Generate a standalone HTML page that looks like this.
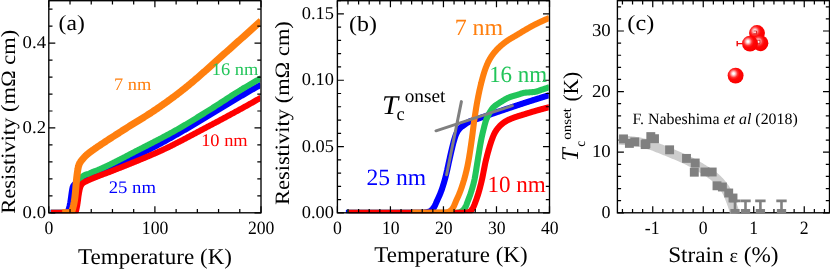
<!DOCTYPE html>
<html><head><meta charset="utf-8"><title>Figure</title>
<style>
html,body{margin:0;padding:0;background:#fff;}
body{width:830px;height:269px;overflow:hidden;position:relative;font-family:"Liberation Serif",serif;}
</style></head><body>
<svg width="830" height="269" viewBox="0 0 830 269" style="position:absolute;left:0;top:0;will-change:transform;text-rendering:geometricPrecision;font-family:'Liberation Serif', serif">
<rect width="830" height="269" fill="#fff"/>
<defs>
<clipPath id="ca"><rect x="48.80" y="0.70" width="212.80" height="213.30"/></clipPath>
<clipPath id="cb"><rect x="337.40" y="0.70" width="212.70" height="213.30"/></clipPath>
<clipPath id="cc"><rect x="617.40" y="0.70" width="212.70" height="213.30"/></clipPath>
<radialGradient id="ball" cx="0.37" cy="0.37" r="0.62" fx="0.37" fy="0.37"><stop offset="0" stop-color="#fff"/><stop offset="0.08" stop-color="#fff"/><stop offset="0.22" stop-color="#ffb0b0"/><stop offset="0.42" stop-color="#ff3030"/><stop offset="0.6" stop-color="#ff0606"/><stop offset="1" stop-color="#fa0000"/></radialGradient>
</defs>
<defs><clipPath id="ka"><rect x="48.20" y="0.70" width="212.05" height="212.55"/></clipPath><clipPath id="kb"><rect x="336.80" y="0.70" width="211.95" height="212.55"/></clipPath><clipPath id="kc"><rect x="616.80" y="0.70" width="211.95" height="213.00"/></clipPath></defs>
<g clip-path="url(#ka)">
<path d="M50.50 212.80L50.59 212.80L50.68 212.80L50.77 212.80L50.87 212.80L50.96 212.80L51.05 212.80L51.14 212.80L51.24 212.80L51.33 212.80L51.42 212.80L51.51 212.80L51.60 212.80L51.70 212.80L51.79 212.80L51.88 212.80L51.97 212.80L52.07 212.80L52.16 212.80L52.25 212.80L52.34 212.80L52.44 212.80L52.53 212.80L52.62 212.80L52.71 212.80L52.80 212.80L52.90 212.80L52.99 212.80L53.08 212.80L53.17 212.80L53.27 212.80L53.36 212.80L53.45 212.80L53.54 212.80L53.64 212.80L53.73 212.80L53.82 212.80L53.91 212.80L54.00 212.80L54.10 212.80L54.19 212.80L54.28 212.80L54.37 212.80L54.47 212.80L54.56 212.80L54.65 212.80L54.74 212.80L54.83 212.80L54.93 212.80L55.02 212.80L55.11 212.80L55.20 212.80L55.30 212.80L55.39 212.80L55.48 212.80L55.57 212.80L55.67 212.80L55.76 212.80L55.85 212.80L55.94 212.80L56.03 212.80L56.13 212.80L56.22 212.80L56.31 212.80L56.40 212.80L56.50 212.80L56.59 212.80L56.68 212.80L56.77 212.80L56.86 212.80L56.96 212.80L57.05 212.80L57.14 212.80L57.23 212.80L57.33 212.80L57.42 212.80L57.51 212.80L57.60 212.80L57.70 212.80L57.79 212.80L57.88 212.80L57.97 212.80L58.06 212.80L58.16 212.80L58.25 212.80L58.34 212.80L58.43 212.80L58.53 212.80L58.62 212.80L58.71 212.80L58.80 212.80L58.90 212.80L58.99 212.80L59.08 212.80L59.17 212.80L59.26 212.80L59.36 212.80L59.45 212.80L59.54 212.80L59.63 212.80L59.73 212.80L59.82 212.80L59.91 212.80L60.00 212.80L60.09 212.80L60.19 212.80L60.28 212.80L60.37 212.80L60.46 212.80L60.56 212.80L60.65 212.80L60.74 212.80L60.83 212.80L60.93 212.80L61.02 212.80L61.11 212.80L61.20 212.80L61.29 212.80L61.39 212.80L61.48 212.80L61.57 212.80L61.66 212.80L61.76 212.80L61.85 212.80L61.94 212.80L62.03 212.80L62.12 212.80L62.22 212.80L62.31 212.80L62.40 212.80L62.49 212.80L62.59 212.80L62.68 212.80L62.77 212.80L62.86 212.80L62.96 212.80L63.05 212.80L63.14 212.80L63.23 212.80L63.32 212.80L63.42 212.80L63.51 212.80L63.60 212.80L63.69 212.80L63.79 212.80L63.88 212.80L63.97 212.80L64.06 212.80L64.15 212.80L64.25 212.80L64.34 212.80L64.43 212.80L64.52 212.80L64.62 212.80L64.71 212.80L64.80 212.80L64.89 212.80L64.99 212.80L65.08 212.80L65.17 212.80L65.26 212.80L65.35 212.80L65.45 212.80L65.54 212.80L65.63 212.80L65.72 212.80L65.82 212.79L65.91 212.78L66.00 212.77L66.09 212.76L66.19 212.74L66.28 212.72L66.37 212.70L66.46 212.68L66.55 212.65L66.65 212.62L66.74 212.59L66.83 212.56L66.92 212.53L67.02 212.49L67.11 212.45L67.20 212.40L67.29 212.33L67.38 212.24L67.48 212.14L67.57 212.02L67.66 211.88L67.75 211.74L67.85 211.58L67.94 211.41L68.03 211.24L68.12 211.05L68.22 210.82L68.31 210.54L68.40 210.23L68.49 209.89L68.58 209.54L68.68 209.20L68.77 208.87L68.86 208.56L68.95 208.24L69.05 207.91L69.14 207.59L69.23 207.25L69.32 206.90L69.41 206.53L69.51 206.15L69.60 205.75L69.69 205.33L69.78 204.90L69.88 204.45L69.97 203.98L70.06 203.50L70.15 203.00L70.25 202.49L70.34 201.95L70.43 201.38L70.52 200.78L70.61 200.16L70.71 199.53L70.80 198.88L70.89 198.21L70.98 197.52L71.08 196.82L71.17 196.13L71.26 195.47L71.35 194.81L71.45 194.15L71.54 193.51L71.63 192.88L71.72 192.27L71.81 191.65L71.91 191.04L72.00 190.46L72.09 189.91L72.18 189.41L72.28 188.93L72.37 188.47L72.46 188.04L72.55 187.67L72.64 187.35L72.74 187.07L72.83 186.81L72.92 186.57L73.01 186.35L73.11 186.15L73.20 185.97L73.29 185.81L73.38 185.66L73.48 185.52L73.57 185.40L73.66 185.28L73.75 185.17L73.84 185.07L73.94 184.96L74.03 184.86L74.12 184.76L74.21 184.65L74.31 184.55L74.40 184.44L74.49 184.34L74.58 184.23L74.67 184.13L74.77 184.03L74.86 183.94L74.95 183.85L75.04 183.76L75.14 183.68L75.23 183.60L75.32 183.53L75.41 183.47L75.51 183.41L75.60 183.35L75.69 183.30L75.78 183.25L75.87 183.20L75.97 183.16L76.06 183.11L76.15 183.07L76.24 183.02L76.34 182.98L76.43 182.94L76.52 182.89L76.61 182.85L76.70 182.80L76.80 182.75L76.89 182.70L76.98 182.65L77.07 182.60L77.17 182.55L77.26 182.50L77.35 182.45L77.44 182.40L77.54 182.35L77.63 182.30L77.72 182.25L77.81 182.20L77.90 182.15L78.00 182.10L78.09 182.05L78.18 181.99L78.27 181.94L78.37 181.89L78.46 181.84L78.55 181.79L78.64 181.74L78.74 181.69L78.83 181.64L78.92 181.59L79.01 181.53L79.10 181.48L79.20 181.43L79.29 181.38L79.38 181.33L79.47 181.28L79.57 181.23L79.66 181.18L79.75 181.13L79.84 181.08L79.93 181.03L80.03 180.97L80.12 180.92L80.21 180.87L80.30 180.82L80.40 180.77L80.49 180.72L80.58 180.67L80.67 180.62L80.77 180.57L80.86 180.52L80.95 180.47L81.04 180.42L81.13 180.37L81.23 180.32L81.32 180.27L81.41 180.22L81.50 180.17L81.60 180.12L81.69 180.07L81.78 180.02L81.87 179.97L81.96 179.92L82.06 179.87L82.15 179.82L82.24 179.77L82.33 179.72L82.43 179.67L82.52 179.62L82.61 179.57L82.70 179.52L82.80 179.47L82.89 179.42L82.98 179.37L83.07 179.32L83.16 179.27L83.26 179.22L83.35 179.17L83.44 179.12L83.53 179.08L83.63 179.03L83.72 178.98L83.81 178.93L83.90 178.88L84.00 178.83L84.09 178.78L84.18 178.73L84.27 178.68L84.36 178.63L84.46 178.58L84.55 178.53L84.64 178.48L84.73 178.43L84.83 178.38L84.92 178.34L85.01 178.29L85.10 178.24L85.19 178.19L85.29 178.14L85.38 178.09L85.47 178.04L85.56 177.99L85.66 177.94L85.75 177.90L85.84 177.85L85.93 177.80L86.03 177.75L86.12 177.70L86.21 177.65L86.30 177.61L86.39 177.56L86.49 177.51L86.58 177.46L86.67 177.41L86.76 177.37L86.86 177.32L86.95 177.27L87.04 177.22L87.13 177.18L87.22 177.13L87.32 177.08L87.41 177.03L87.50 176.99L87.59 176.94L87.69 176.89L87.78 176.84L87.87 176.79L87.96 176.75L88.06 176.70L88.15 176.65L88.24 176.60L88.33 176.55L88.42 176.50L88.52 176.46L88.61 176.41L88.70 176.36L88.79 176.31L88.89 176.26L88.98 176.22L89.07 176.17L89.16 176.12L89.25 176.07L89.35 176.03L89.44 175.98L89.53 175.93L89.62 175.89L89.72 175.84L89.81 175.79L89.90 175.75L89.99 175.70L90.09 175.66L90.18 175.61L90.27 175.57L90.36 175.53L90.45 175.48L90.55 175.44L90.64 175.40L90.73 175.35L90.82 175.31L90.92 175.27L91.01 175.23L91.10 175.19L91.19 175.15L91.29 175.11L91.38 175.07L91.47 175.03L91.56 175.00L91.65 174.96L91.75 174.92L91.84 174.88L91.93 174.85L92.02 174.81L92.12 174.77L92.21 174.73L92.30 174.70L92.39 174.66L92.48 174.62L92.58 174.59L92.67 174.55L92.76 174.52L92.85 174.48L92.95 174.45L93.04 174.41L93.13 174.38L93.22 174.34L93.32 174.31L93.41 174.27L93.50 174.24L93.59 174.20L93.68 174.17L93.78 174.14L93.87 174.10L93.96 174.07L94.05 174.04L94.15 174.00L94.24 173.97L94.33 173.94L94.42 173.90L94.51 173.87L94.61 173.84L94.70 173.81L94.79 173.77L94.88 173.74L94.98 173.71L95.07 173.68L95.16 173.65L95.25 173.61L95.35 173.58L95.44 173.55L95.53 173.52L95.62 173.49L95.71 173.46L95.81 173.43L95.90 173.40L95.99 173.37L96.08 173.34L96.18 173.30L96.27 173.27L96.36 173.24L96.45 173.21L96.54 173.18L97.37 172.92L98.20 172.65L99.02 172.39L99.85 172.13L100.68 171.87L101.50 171.61L102.33 171.34L103.16 171.06L103.98 170.78L104.81 170.48L105.64 170.17L106.46 169.85L107.29 169.53L108.11 169.20L108.94 168.86L109.77 168.53L110.59 168.19L111.42 167.84L112.25 167.49L113.07 167.14L113.90 166.78L114.73 166.42L115.55 166.06L116.38 165.70L117.21 165.33L118.03 164.96L118.86 164.58L119.68 164.20L120.51 163.82L121.34 163.44L122.16 163.05L122.99 162.67L123.82 162.28L124.64 161.88L125.47 161.49L126.30 161.09L127.12 160.69L127.95 160.29L128.77 159.89L129.60 159.48L130.43 159.08L131.25 158.67L132.08 158.26L132.91 157.85L133.73 157.44L134.56 157.02L135.39 156.61L136.21 156.19L137.04 155.78L137.87 155.36L138.69 154.94L139.52 154.52L140.34 154.10L141.17 153.68L142.00 153.26L142.82 152.84L143.65 152.42L144.48 151.99L145.30 151.57L146.13 151.15L146.96 150.73L147.78 150.31L148.61 149.88L149.44 149.46L150.26 149.03L151.09 148.61L151.91 148.18L152.74 147.75L153.57 147.31L154.39 146.88L155.22 146.44L156.05 146.00L156.87 145.56L157.70 145.11L158.53 144.67L159.35 144.22L160.18 143.77L161.00 143.32L161.83 142.87L162.66 142.42L163.48 141.97L164.31 141.51L165.14 141.05L165.96 140.59L166.79 140.14L167.62 139.67L168.44 139.21L169.27 138.75L170.10 138.29L170.92 137.82L171.75 137.35L172.57 136.89L173.40 136.42L174.23 135.95L175.05 135.48L175.88 135.01L176.71 134.54L177.53 134.07L178.36 133.60L179.19 133.13L180.01 132.65L180.84 132.18L181.66 131.70L182.49 131.23L183.32 130.76L184.14 130.28L184.97 129.81L185.80 129.33L186.62 128.85L187.45 128.37L188.28 127.89L189.10 127.40L189.93 126.92L190.76 126.43L191.58 125.94L192.41 125.45L193.23 124.96L194.06 124.47L194.89 123.98L195.71 123.48L196.54 122.99L197.37 122.49L198.19 121.99L199.02 121.50L199.85 121.00L200.67 120.50L201.50 120.00L202.33 119.50L203.15 119.00L203.98 118.49L204.80 117.99L205.63 117.49L206.46 116.99L207.28 116.49L208.11 115.99L208.94 115.48L209.76 114.98L210.59 114.48L211.42 113.98L212.24 113.48L213.07 112.98L213.89 112.48L214.72 111.98L215.55 111.49L216.37 110.99L217.20 110.49L218.03 110.00L218.85 109.50L219.68 109.01L220.51 108.51L221.33 108.01L222.16 107.51L222.99 107.02L223.81 106.52L224.64 106.02L225.46 105.52L226.29 105.02L227.12 104.52L227.94 104.01L228.77 103.51L229.60 103.01L230.42 102.51L231.25 102.01L232.08 101.51L232.90 101.01L233.73 100.51L234.55 100.01L235.38 99.51L236.21 99.01L237.03 98.52L237.86 98.02L238.69 97.52L239.51 97.03L240.34 96.53L241.17 96.04L241.99 95.55L242.82 95.06L243.65 94.57L244.47 94.08L245.30 93.59L246.12 93.10L246.95 92.62L247.78 92.14L248.60 91.66L249.43 91.18L250.26 90.70L251.08 90.22L251.91 89.75L252.74 89.28L253.56 88.81L254.39 88.35L255.22 87.88L256.04 87.42L256.87 86.97L257.69 86.51L258.52 86.05L259.35 85.60L260.17 85.14L261.00 84.69" stroke="#0000ff" stroke-width="6.0" fill="none" stroke-linejoin="round" stroke-linecap="butt"/>
<path d="M50.76 212.80L50.85 212.80L50.95 212.80L51.04 212.80L51.13 212.80L51.22 212.80L51.31 212.80L51.41 212.80L51.50 212.80L51.59 212.80L51.68 212.80L51.77 212.80L51.86 212.80L51.96 212.80L52.05 212.80L52.14 212.80L52.23 212.80L52.32 212.80L52.41 212.80L52.51 212.80L52.60 212.80L52.69 212.80L52.78 212.80L52.87 212.80L52.96 212.80L53.06 212.80L53.15 212.80L53.24 212.80L53.33 212.80L53.42 212.80L53.52 212.80L53.61 212.80L53.70 212.80L53.79 212.80L53.88 212.80L53.97 212.80L54.07 212.80L54.16 212.80L54.25 212.80L54.34 212.80L54.43 212.80L54.52 212.80L54.62 212.80L54.71 212.80L54.80 212.80L54.89 212.80L54.98 212.80L55.07 212.80L55.17 212.80L55.26 212.80L55.35 212.80L55.44 212.80L55.53 212.80L55.63 212.80L55.72 212.80L55.81 212.80L55.90 212.80L55.99 212.80L56.08 212.80L56.18 212.80L56.27 212.80L56.36 212.80L56.45 212.80L56.54 212.80L56.63 212.80L56.73 212.80L56.82 212.80L56.91 212.80L57.00 212.80L57.09 212.80L57.19 212.80L57.28 212.80L57.37 212.80L57.46 212.80L57.55 212.80L57.64 212.80L57.74 212.80L57.83 212.80L57.92 212.80L58.01 212.80L58.10 212.80L58.19 212.80L58.29 212.80L58.38 212.80L58.47 212.80L58.56 212.80L58.65 212.80L58.74 212.80L58.84 212.80L58.93 212.80L59.02 212.80L59.11 212.80L59.20 212.80L59.30 212.80L59.39 212.80L59.48 212.80L59.57 212.80L59.66 212.80L59.75 212.80L59.85 212.80L59.94 212.80L60.03 212.80L60.12 212.80L60.21 212.80L60.30 212.80L60.40 212.80L60.49 212.80L60.58 212.80L60.67 212.80L60.76 212.80L60.86 212.80L60.95 212.80L61.04 212.80L61.13 212.80L61.22 212.80L61.31 212.80L61.41 212.80L61.50 212.80L61.59 212.80L61.68 212.80L61.77 212.80L61.86 212.80L61.96 212.80L62.05 212.80L62.14 212.80L62.23 212.80L62.32 212.80L62.41 212.80L62.51 212.80L62.60 212.80L62.69 212.80L62.78 212.80L62.87 212.80L62.97 212.80L63.06 212.80L63.15 212.80L63.24 212.80L63.33 212.80L63.42 212.80L63.52 212.80L63.61 212.80L63.70 212.80L63.79 212.80L63.88 212.80L63.97 212.80L64.07 212.80L64.16 212.80L64.25 212.80L64.34 212.80L64.43 212.80L64.53 212.80L64.62 212.80L64.71 212.80L64.80 212.80L64.89 212.80L64.98 212.80L65.08 212.80L65.17 212.80L65.26 212.80L65.35 212.80L65.44 212.80L65.53 212.80L65.63 212.80L65.72 212.80L65.81 212.80L65.90 212.80L65.99 212.80L66.08 212.80L66.18 212.80L66.27 212.80L66.36 212.80L66.45 212.80L66.54 212.80L66.64 212.80L66.73 212.80L66.82 212.80L66.91 212.80L67.00 212.80L67.09 212.80L67.19 212.80L67.28 212.80L67.37 212.80L67.46 212.80L67.55 212.80L67.64 212.80L67.74 212.80L67.83 212.80L67.92 212.80L68.01 212.80L68.10 212.80L68.19 212.80L68.29 212.80L68.38 212.80L68.47 212.80L68.56 212.80L68.65 212.80L68.75 212.80L68.84 212.80L68.93 212.80L69.02 212.80L69.11 212.80L69.20 212.80L69.30 212.80L69.39 212.80L69.48 212.80L69.57 212.80L69.66 212.80L69.75 212.80L69.85 212.80L69.94 212.80L70.03 212.80L70.12 212.80L70.21 212.80L70.31 212.80L70.40 212.80L70.49 212.80L70.58 212.80L70.67 212.80L70.76 212.80L70.86 212.80L70.95 212.80L71.04 212.80L71.13 212.80L71.22 212.80L71.31 212.80L71.41 212.80L71.50 212.80L71.59 212.80L71.68 212.80L71.77 212.80L71.86 212.80L71.96 212.80L72.05 212.80L72.14 212.80L72.23 212.80L72.32 212.80L72.42 212.80L72.51 212.80L72.60 212.80L72.69 212.79L72.78 212.78L72.87 212.76L72.97 212.73L73.06 212.69L73.15 212.65L73.24 212.61L73.33 212.56L73.42 212.51L73.52 212.45L73.61 212.39L73.70 212.32L73.79 212.22L73.88 212.09L73.98 211.95L74.07 211.78L74.16 211.59L74.25 211.39L74.34 211.17L74.43 210.93L74.53 210.62L74.62 210.25L74.71 209.86L74.80 209.45L74.89 209.06L74.98 208.68L75.08 208.30L75.17 207.91L75.26 207.52L75.35 207.11L75.44 206.68L75.53 206.24L75.63 205.77L75.72 205.30L75.81 204.80L75.90 204.28L75.99 203.73L76.09 203.15L76.18 202.53L76.27 201.84L76.36 201.07L76.45 200.22L76.54 199.32L76.64 198.39L76.73 197.46L76.82 196.55L76.91 195.67L77.00 194.78L77.09 193.87L77.19 192.97L77.28 192.07L77.37 191.20L77.46 190.37L77.55 189.60L77.64 188.88L77.74 188.20L77.83 187.55L77.92 186.92L78.01 186.32L78.10 185.74L78.20 185.15L78.29 184.58L78.38 184.03L78.47 183.53L78.56 183.10L78.65 182.72L78.75 182.36L78.84 182.03L78.93 181.72L79.02 181.43L79.11 181.16L79.20 180.90L79.30 180.65L79.39 180.40L79.48 180.17L79.57 179.94L79.66 179.73L79.76 179.53L79.85 179.34L79.94 179.17L80.03 179.02L80.12 178.88L80.21 178.75L80.31 178.64L80.40 178.52L80.49 178.42L80.58 178.31L80.67 178.21L80.76 178.10L80.86 178.00L80.95 177.90L81.04 177.80L81.13 177.70L81.22 177.61L81.31 177.52L81.41 177.42L81.50 177.33L81.59 177.24L81.68 177.15L81.77 177.06L81.87 176.97L81.96 176.88L82.05 176.79L82.14 176.70L82.23 176.62L82.32 176.53L82.42 176.44L82.51 176.36L82.60 176.28L82.69 176.20L82.78 176.13L82.87 176.06L82.97 176.00L83.06 175.94L83.15 175.88L83.24 175.83L83.33 175.77L83.43 175.72L83.52 175.67L83.61 175.62L83.70 175.57L83.79 175.53L83.88 175.48L83.98 175.44L84.07 175.39L84.16 175.35L84.25 175.31L84.34 175.26L84.43 175.22L84.53 175.18L84.62 175.14L84.71 175.09L84.80 175.05L84.89 175.01L84.98 174.97L85.08 174.92L85.17 174.88L85.26 174.83L85.35 174.78L85.44 174.73L85.54 174.68L85.63 174.63L85.72 174.58L85.81 174.53L85.90 174.49L85.99 174.45L86.09 174.43L86.18 174.40L86.27 174.38L86.36 174.37L86.45 174.35L86.54 174.34L86.64 174.33L86.73 174.32L86.82 174.30L86.91 174.29L87.00 174.28L87.09 174.27L87.19 174.26L87.28 174.25L87.37 174.24L87.46 174.23L87.55 174.22L87.65 174.20L87.74 174.19L87.83 174.18L87.92 174.17L88.01 174.16L88.10 174.14L88.20 174.13L88.29 174.11L88.38 174.09L88.47 174.06L88.56 174.02L88.65 173.98L88.75 173.94L88.84 173.89L88.93 173.84L89.02 173.79L89.11 173.74L89.21 173.68L89.30 173.63L89.39 173.58L89.48 173.52L89.57 173.47L89.66 173.43L89.76 173.38L89.85 173.33L89.94 173.28L90.03 173.23L90.12 173.18L90.21 173.13L90.31 173.08L90.40 173.03L90.49 172.98L90.58 172.92L90.67 172.87L90.76 172.83L90.86 172.78L90.95 172.73L91.04 172.68L91.13 172.64L91.22 172.59L91.32 172.55L91.41 172.51L91.50 172.47L91.59 172.43L91.68 172.39L91.77 172.35L91.87 172.31L91.96 172.27L92.05 172.23L92.14 172.19L92.23 172.15L92.32 172.11L92.42 172.08L92.51 172.04L92.60 172.00L92.69 171.96L92.78 171.93L92.88 171.89L92.97 171.86L93.06 171.82L93.15 171.79L93.24 171.75L93.33 171.72L93.43 171.68L93.52 171.65L93.61 171.61L93.70 171.58L93.79 171.54L93.88 171.51L93.98 171.48L94.07 171.44L94.16 171.41L94.25 171.38L94.34 171.34L94.43 171.31L94.53 171.28L94.62 171.24L94.71 171.21L94.80 171.18L94.89 171.15L94.99 171.11L95.08 171.08L95.17 171.05L95.26 171.01L95.35 170.98L95.44 170.95L95.54 170.92L95.63 170.88L95.72 170.85L95.81 170.82L95.90 170.78L95.99 170.75L96.09 170.72L96.18 170.68L96.27 170.65L96.36 170.61L96.45 170.58L96.54 170.55L97.37 170.23L98.20 169.88L99.02 169.53L99.85 169.17L100.68 168.81L101.50 168.44L102.33 168.08L103.16 167.70L103.98 167.32L104.81 166.94L105.64 166.56L106.46 166.17L107.29 165.78L108.11 165.39L108.94 164.99L109.77 164.59L110.59 164.19L111.42 163.78L112.25 163.37L113.07 162.96L113.90 162.55L114.73 162.14L115.55 161.72L116.38 161.30L117.21 160.88L118.03 160.46L118.86 160.04L119.68 159.61L120.51 159.18L121.34 158.76L122.16 158.33L122.99 157.90L123.82 157.47L124.64 157.04L125.47 156.61L126.30 156.18L127.12 155.75L127.95 155.31L128.77 154.88L129.60 154.45L130.43 154.02L131.25 153.59L132.08 153.16L132.91 152.73L133.73 152.30L134.56 151.87L135.39 151.44L136.21 151.02L137.04 150.59L137.87 150.17L138.69 149.75L139.52 149.32L140.34 148.90L141.17 148.48L142.00 148.06L142.82 147.64L143.65 147.22L144.48 146.80L145.30 146.37L146.13 145.95L146.96 145.53L147.78 145.11L148.61 144.69L149.44 144.26L150.26 143.84L151.09 143.42L151.91 142.99L152.74 142.57L153.57 142.14L154.39 141.71L155.22 141.29L156.05 140.86L156.87 140.43L157.70 140.00L158.53 139.57L159.35 139.14L160.18 138.71L161.00 138.27L161.83 137.84L162.66 137.40L163.48 136.96L164.31 136.52L165.14 136.08L165.96 135.64L166.79 135.20L167.62 134.75L168.44 134.31L169.27 133.86L170.10 133.41L170.92 132.96L171.75 132.50L172.57 132.05L173.40 131.59L174.23 131.13L175.05 130.67L175.88 130.21L176.71 129.74L177.53 129.27L178.36 128.80L179.19 128.33L180.01 127.85L180.84 127.38L181.66 126.90L182.49 126.41L183.32 125.93L184.14 125.44L184.97 124.95L185.80 124.46L186.62 123.97L187.45 123.47L188.28 122.98L189.10 122.48L189.93 121.98L190.76 121.48L191.58 120.98L192.41 120.47L193.23 119.97L194.06 119.46L194.89 118.95L195.71 118.45L196.54 117.94L197.37 117.43L198.19 116.92L199.02 116.41L199.85 115.89L200.67 115.38L201.50 114.87L202.33 114.35L203.15 113.84L203.98 113.33L204.80 112.81L205.63 112.30L206.46 111.78L207.28 111.27L208.11 110.76L208.94 110.24L209.76 109.73L210.59 109.21L211.42 108.69L212.24 108.17L213.07 107.65L213.89 107.12L214.72 106.60L215.55 106.07L216.37 105.54L217.20 105.01L218.03 104.47L218.85 103.94L219.68 103.40L220.51 102.87L221.33 102.33L222.16 101.79L222.99 101.26L223.81 100.72L224.64 100.18L225.46 99.64L226.29 99.11L227.12 98.57L227.94 98.03L228.77 97.50L229.60 96.97L230.42 96.43L231.25 95.90L232.08 95.37L232.90 94.84L233.73 94.32L234.55 93.79L235.38 93.27L236.21 92.75L237.03 92.23L237.86 91.72L238.69 91.21L239.51 90.70L240.34 90.19L241.17 89.69L241.99 89.19L242.82 88.69L243.65 88.19L244.47 87.70L245.30 87.20L246.12 86.71L246.95 86.22L247.78 85.73L248.60 85.25L249.43 84.76L250.26 84.28L251.08 83.79L251.91 83.31L252.74 82.83L253.56 82.36L254.39 81.88L255.22 81.40L256.04 80.93L256.87 80.46L257.69 79.99L258.52 79.52L259.35 79.05L260.17 78.58L261.00 78.12" stroke="#22c55a" stroke-width="6.0" fill="none" stroke-linejoin="round" stroke-linecap="butt"/>
<path d="M51.03 212.80L51.12 212.80L51.21 212.80L51.30 212.80L51.39 212.80L51.48 212.80L51.58 212.80L51.67 212.80L51.76 212.80L51.85 212.80L51.94 212.80L52.03 212.80L52.12 212.80L52.21 212.80L52.31 212.80L52.40 212.80L52.49 212.80L52.58 212.80L52.67 212.80L52.76 212.80L52.85 212.80L52.94 212.80L53.03 212.80L53.13 212.80L53.22 212.80L53.31 212.80L53.40 212.80L53.49 212.80L53.58 212.80L53.67 212.80L53.76 212.80L53.86 212.80L53.95 212.80L54.04 212.80L54.13 212.80L54.22 212.80L54.31 212.80L54.40 212.80L54.49 212.80L54.59 212.80L54.68 212.80L54.77 212.80L54.86 212.80L54.95 212.80L55.04 212.80L55.13 212.80L55.22 212.80L55.32 212.80L55.41 212.80L55.50 212.80L55.59 212.80L55.68 212.80L55.77 212.80L55.86 212.80L55.95 212.80L56.04 212.80L56.14 212.80L56.23 212.80L56.32 212.80L56.41 212.80L56.50 212.80L56.59 212.80L56.68 212.80L56.77 212.80L56.87 212.80L56.96 212.80L57.05 212.80L57.14 212.80L57.23 212.80L57.32 212.80L57.41 212.80L57.50 212.80L57.60 212.80L57.69 212.80L57.78 212.80L57.87 212.80L57.96 212.80L58.05 212.80L58.14 212.80L58.23 212.80L58.33 212.80L58.42 212.80L58.51 212.80L58.60 212.80L58.69 212.80L58.78 212.80L58.87 212.80L58.96 212.80L59.06 212.80L59.15 212.80L59.24 212.80L59.33 212.80L59.42 212.80L59.51 212.80L59.60 212.80L59.69 212.80L59.78 212.80L59.88 212.80L59.97 212.80L60.06 212.80L60.15 212.80L60.24 212.80L60.33 212.80L60.42 212.80L60.51 212.80L60.61 212.80L60.70 212.80L60.79 212.80L60.88 212.80L60.97 212.80L61.06 212.80L61.15 212.80L61.24 212.80L61.34 212.80L61.43 212.80L61.52 212.80L61.61 212.80L61.70 212.80L61.79 212.80L61.88 212.80L61.97 212.80L62.07 212.80L62.16 212.80L62.25 212.80L62.34 212.80L62.43 212.80L62.52 212.80L62.61 212.80L62.70 212.80L62.79 212.80L62.89 212.80L62.98 212.80L63.07 212.80L63.16 212.80L63.25 212.80L63.34 212.80L63.43 212.80L63.52 212.80L63.62 212.80L63.71 212.80L63.80 212.80L63.89 212.80L63.98 212.80L64.07 212.80L64.16 212.80L64.25 212.80L64.35 212.80L64.44 212.80L64.53 212.80L64.62 212.80L64.71 212.80L64.80 212.80L64.89 212.80L64.98 212.80L65.08 212.80L65.17 212.80L65.26 212.80L65.35 212.80L65.44 212.80L65.53 212.80L65.62 212.80L65.71 212.80L65.81 212.80L65.90 212.80L65.99 212.80L66.08 212.80L66.17 212.80L66.26 212.80L66.35 212.80L66.44 212.80L66.53 212.80L66.63 212.80L66.72 212.80L66.81 212.80L66.90 212.80L66.99 212.80L67.08 212.80L67.17 212.80L67.26 212.80L67.36 212.80L67.45 212.80L67.54 212.80L67.63 212.80L67.72 212.80L67.81 212.80L67.90 212.80L67.99 212.80L68.09 212.80L68.18 212.80L68.27 212.80L68.36 212.80L68.45 212.80L68.54 212.80L68.63 212.80L68.72 212.80L68.82 212.80L68.91 212.80L69.00 212.80L69.09 212.80L69.18 212.80L69.27 212.80L69.36 212.80L69.45 212.80L69.54 212.80L69.64 212.80L69.73 212.80L69.82 212.80L69.91 212.80L70.00 212.80L70.09 212.80L70.18 212.80L70.27 212.80L70.37 212.80L70.46 212.80L70.55 212.80L70.64 212.80L70.73 212.80L70.82 212.80L70.91 212.80L71.00 212.80L71.10 212.80L71.19 212.80L71.28 212.80L71.37 212.80L71.46 212.80L71.55 212.80L71.64 212.80L71.73 212.80L71.83 212.80L71.92 212.80L72.01 212.80L72.10 212.80L72.19 212.80L72.28 212.80L72.37 212.80L72.46 212.80L72.56 212.80L72.65 212.80L72.74 212.80L72.83 212.80L72.92 212.80L73.01 212.80L73.10 212.80L73.19 212.80L73.28 212.80L73.38 212.80L73.47 212.80L73.56 212.80L73.65 212.80L73.74 212.80L73.83 212.80L73.92 212.80L74.01 212.80L74.11 212.80L74.20 212.80L74.29 212.80L74.38 212.80L74.47 212.79L74.56 212.78L74.65 212.76L74.74 212.72L74.84 212.68L74.93 212.64L75.02 212.59L75.11 212.53L75.20 212.47L75.29 212.40L75.38 212.32L75.47 212.20L75.57 212.05L75.66 211.86L75.75 211.65L75.84 211.43L75.93 211.19L76.02 210.93L76.11 210.62L76.20 210.27L76.29 209.88L76.39 209.49L76.48 209.09L76.57 208.69L76.66 208.28L76.75 207.86L76.84 207.42L76.93 206.97L77.02 206.50L77.12 206.00L77.21 205.49L77.30 204.94L77.39 204.38L77.48 203.80L77.57 203.20L77.66 202.59L77.75 201.95L77.85 201.27L77.94 200.55L78.03 199.80L78.12 199.05L78.21 198.30L78.30 197.57L78.39 196.87L78.48 196.22L78.58 195.62L78.67 195.04L78.76 194.47L78.85 193.91L78.94 193.37L79.03 192.84L79.12 192.33L79.21 191.83L79.31 191.35L79.40 190.88L79.49 190.43L79.58 190.00L79.67 189.58L79.76 189.18L79.85 188.79L79.94 188.42L80.03 188.07L80.13 187.73L80.22 187.43L80.31 187.15L80.40 186.89L80.49 186.65L80.58 186.43L80.67 186.22L80.76 186.02L80.86 185.83L80.95 185.65L81.04 185.48L81.13 185.32L81.22 185.16L81.31 185.00L81.40 184.85L81.49 184.71L81.59 184.58L81.68 184.45L81.77 184.33L81.86 184.22L81.95 184.11L82.04 184.00L82.13 183.89L82.22 183.79L82.32 183.69L82.41 183.60L82.50 183.51L82.59 183.42L82.68 183.34L82.77 183.26L82.86 183.19L82.95 183.11L83.04 183.05L83.14 182.98L83.23 182.91L83.32 182.85L83.41 182.79L83.50 182.72L83.59 182.66L83.68 182.61L83.77 182.55L83.87 182.49L83.96 182.44L84.05 182.38L84.14 182.33L84.23 182.28L84.32 182.23L84.41 182.18L84.50 182.13L84.60 182.08L84.69 182.03L84.78 181.98L84.87 181.94L84.96 181.89L85.05 181.84L85.14 181.80L85.23 181.75L85.33 181.71L85.42 181.66L85.51 181.62L85.60 181.57L85.69 181.53L85.78 181.48L85.87 181.44L85.96 181.39L86.06 181.35L86.15 181.30L86.24 181.26L86.33 181.21L86.42 181.17L86.51 181.12L86.60 181.08L86.69 181.03L86.78 180.99L86.88 180.94L86.97 180.90L87.06 180.85L87.15 180.81L87.24 180.76L87.33 180.72L87.42 180.68L87.51 180.63L87.61 180.59L87.70 180.55L87.79 180.51L87.88 180.46L87.97 180.42L88.06 180.38L88.15 180.34L88.24 180.30L88.34 180.25L88.43 180.21L88.52 180.17L88.61 180.13L88.70 180.09L88.79 180.05L88.88 180.01L88.97 179.97L89.07 179.93L89.16 179.89L89.25 179.85L89.34 179.81L89.43 179.77L89.52 179.73L89.61 179.69L89.70 179.65L89.79 179.61L89.89 179.57L89.98 179.53L90.07 179.49L90.16 179.45L90.25 179.41L90.34 179.37L90.43 179.33L90.52 179.30L90.62 179.26L90.71 179.22L90.80 179.18L90.89 179.14L90.98 179.10L91.07 179.06L91.16 179.02L91.25 178.99L91.35 178.95L91.44 178.91L91.53 178.87L91.62 178.83L91.71 178.79L91.80 178.75L91.89 178.72L91.98 178.68L92.08 178.64L92.17 178.60L92.26 178.56L92.35 178.53L92.44 178.49L92.53 178.45L92.62 178.41L92.71 178.37L92.81 178.34L92.90 178.30L92.99 178.26L93.08 178.22L93.17 178.19L93.26 178.15L93.35 178.11L93.44 178.07L93.53 178.04L93.63 178.00L93.72 177.96L93.81 177.92L93.90 177.89L93.99 177.85L94.08 177.81L94.17 177.78L94.26 177.74L94.36 177.70L94.45 177.67L94.54 177.63L94.63 177.59L94.72 177.56L94.81 177.52L94.90 177.48L94.99 177.45L95.09 177.41L95.18 177.37L95.27 177.34L95.36 177.30L95.45 177.26L95.54 177.23L95.63 177.19L95.72 177.16L95.82 177.12L95.91 177.08L96.00 177.05L96.09 177.01L96.18 176.98L96.27 176.94L96.36 176.90L96.45 176.87L96.54 176.83L97.37 176.51L98.20 176.19L99.02 175.87L99.85 175.56L100.68 175.24L101.50 174.93L102.33 174.62L103.16 174.31L103.98 174.00L104.81 173.69L105.64 173.38L106.46 173.08L107.29 172.77L108.11 172.46L108.94 172.14L109.77 171.83L110.59 171.51L111.42 171.20L112.25 170.88L113.07 170.55L113.90 170.23L114.73 169.90L115.55 169.57L116.38 169.24L117.21 168.91L118.03 168.58L118.86 168.25L119.68 167.92L120.51 167.59L121.34 167.26L122.16 166.93L122.99 166.61L123.82 166.28L124.64 165.95L125.47 165.62L126.30 165.29L127.12 164.96L127.95 164.63L128.77 164.30L129.60 163.96L130.43 163.63L131.25 163.30L132.08 162.97L132.91 162.63L133.73 162.30L134.56 161.97L135.39 161.63L136.21 161.30L137.04 160.96L137.87 160.62L138.69 160.28L139.52 159.94L140.34 159.60L141.17 159.26L142.00 158.92L142.82 158.58L143.65 158.23L144.48 157.89L145.30 157.54L146.13 157.19L146.96 156.84L147.78 156.49L148.61 156.14L149.44 155.79L150.26 155.44L151.09 155.08L151.91 154.72L152.74 154.36L153.57 154.00L154.39 153.64L155.22 153.28L156.05 152.91L156.87 152.54L157.70 152.18L158.53 151.80L159.35 151.43L160.18 151.06L161.00 150.68L161.83 150.30L162.66 149.92L163.48 149.54L164.31 149.15L165.14 148.76L165.96 148.37L166.79 147.97L167.62 147.58L168.44 147.18L169.27 146.77L170.10 146.37L170.92 145.96L171.75 145.55L172.57 145.14L173.40 144.72L174.23 144.30L175.05 143.89L175.88 143.46L176.71 143.04L177.53 142.62L178.36 142.19L179.19 141.77L180.01 141.34L180.84 140.91L181.66 140.48L182.49 140.04L183.32 139.61L184.14 139.18L184.97 138.74L185.80 138.31L186.62 137.87L187.45 137.43L188.28 136.99L189.10 136.56L189.93 136.12L190.76 135.68L191.58 135.24L192.41 134.80L193.23 134.36L194.06 133.92L194.89 133.49L195.71 133.05L196.54 132.61L197.37 132.17L198.19 131.74L199.02 131.30L199.85 130.87L200.67 130.43L201.50 130.00L202.33 129.57L203.15 129.13L203.98 128.70L204.80 128.27L205.63 127.83L206.46 127.40L207.28 126.96L208.11 126.53L208.94 126.09L209.76 125.66L210.59 125.22L211.42 124.78L212.24 124.35L213.07 123.91L213.89 123.47L214.72 123.03L215.55 122.59L216.37 122.15L217.20 121.72L218.03 121.28L218.85 120.84L219.68 120.39L220.51 119.95L221.33 119.51L222.16 119.07L222.99 118.63L223.81 118.18L224.64 117.74L225.46 117.30L226.29 116.85L227.12 116.41L227.94 115.96L228.77 115.52L229.60 115.07L230.42 114.62L231.25 114.18L232.08 113.73L232.90 113.28L233.73 112.83L234.55 112.38L235.38 111.93L236.21 111.48L237.03 111.03L237.86 110.58L238.69 110.12L239.51 109.67L240.34 109.22L241.17 108.76L241.99 108.31L242.82 107.85L243.65 107.39L244.47 106.93L245.30 106.47L246.12 106.02L246.95 105.55L247.78 105.09L248.60 104.63L249.43 104.17L250.26 103.71L251.08 103.24L251.91 102.78L252.74 102.31L253.56 101.85L254.39 101.38L255.22 100.91L256.04 100.45L256.87 99.98L257.69 99.51L258.52 99.04L259.35 98.57L260.17 98.10L261.00 97.63" stroke="#ff0000" stroke-width="6.0" fill="none" stroke-linejoin="round" stroke-linecap="butt"/>
<path d="M62.17 212.80L62.24 212.80L62.31 212.80L62.38 212.80L62.44 212.80L62.51 212.80L62.58 212.80L62.65 212.80L62.72 212.80L62.79 212.80L62.86 212.80L62.93 212.80L63.00 212.80L63.06 212.80L63.13 212.80L63.20 212.80L63.27 212.80L63.34 212.80L63.41 212.80L63.48 212.80L63.55 212.80L63.62 212.80L63.68 212.80L63.75 212.80L63.82 212.80L63.89 212.80L63.96 212.80L64.03 212.80L64.10 212.80L64.17 212.80L64.24 212.80L64.30 212.80L64.37 212.80L64.44 212.80L64.51 212.80L64.58 212.80L64.65 212.80L64.72 212.80L64.79 212.80L64.86 212.80L64.92 212.80L64.99 212.80L65.06 212.80L65.13 212.80L65.20 212.80L65.27 212.80L65.34 212.80L65.41 212.80L65.48 212.80L65.54 212.80L65.61 212.80L65.68 212.80L65.75 212.80L65.82 212.80L65.89 212.80L65.96 212.80L66.03 212.80L66.10 212.80L66.16 212.80L66.23 212.80L66.30 212.80L66.37 212.80L66.44 212.80L66.51 212.80L66.58 212.80L66.65 212.80L66.72 212.80L66.78 212.80L66.85 212.80L66.92 212.80L66.99 212.80L67.06 212.80L67.13 212.80L67.20 212.80L67.27 212.80L67.34 212.80L67.40 212.80L67.47 212.80L67.54 212.80L67.61 212.80L67.68 212.80L67.75 212.80L67.82 212.80L67.89 212.80L67.96 212.80L68.02 212.80L68.09 212.80L68.16 212.80L68.23 212.80L68.30 212.80L68.37 212.80L68.44 212.80L68.51 212.80L68.58 212.80L68.64 212.80L68.71 212.80L68.78 212.80L68.85 212.80L68.92 212.80L68.99 212.80L69.06 212.80L69.13 212.80L69.20 212.80L69.26 212.80L69.33 212.80L69.40 212.80L69.47 212.80L69.54 212.80L69.61 212.80L69.68 212.80L69.75 212.80L69.82 212.80L69.88 212.80L69.95 212.80L70.02 212.80L70.09 212.80L70.16 212.80L70.23 212.80L70.30 212.80L70.37 212.80L70.44 212.80L70.50 212.80L70.57 212.78L70.64 212.76L70.71 212.73L70.78 212.70L70.85 212.66L70.92 212.61L70.99 212.56L71.06 212.50L71.12 212.44L71.19 212.37L71.26 212.30L71.33 212.23L71.40 212.16L71.47 212.08L71.54 211.98L71.61 211.87L71.68 211.74L71.74 211.60L71.81 211.44L71.88 211.28L71.95 211.11L72.02 210.93L72.09 210.74L72.16 210.52L72.23 210.27L72.30 210.01L72.36 209.73L72.43 209.45L72.50 209.19L72.57 208.93L72.64 208.68L72.71 208.44L72.78 208.20L72.85 207.95L72.92 207.71L72.98 207.47L73.05 207.22L73.12 206.96L73.19 206.70L73.26 206.43L73.33 206.14L73.40 205.85L73.47 205.55L73.54 205.25L73.60 204.93L73.67 204.61L73.74 204.28L73.81 203.95L73.88 203.61L73.95 203.26L74.02 202.90L74.09 202.53L74.16 202.16L74.22 201.78L74.29 201.39L74.36 200.98L74.43 200.56L74.50 200.12L74.57 199.67L74.64 199.21L74.71 198.73L74.78 198.22L74.84 197.70L74.91 197.15L74.98 196.59L75.05 195.99L75.12 195.37L75.19 194.72L75.26 194.04L75.33 193.33L75.40 192.61L75.46 191.86L75.53 191.10L75.60 190.33L75.67 189.56L75.74 188.75L75.81 187.90L75.88 187.03L75.95 186.14L76.02 185.26L76.08 184.40L76.15 183.58L76.22 182.81L76.29 182.06L76.36 181.33L76.43 180.61L76.50 179.91L76.57 179.22L76.64 178.56L76.70 177.92L76.77 177.30L76.84 176.70L76.91 176.12L76.98 175.56L77.05 175.01L77.12 174.48L77.19 173.96L77.26 173.46L77.32 172.97L77.39 172.49L77.46 172.03L77.53 171.58L77.60 171.14L77.67 170.71L77.74 170.27L77.81 169.85L77.88 169.44L77.94 169.03L78.01 168.65L78.08 168.27L78.15 167.92L78.22 167.59L78.29 167.28L78.36 166.99L78.43 166.71L78.50 166.45L78.56 166.19L78.63 165.95L78.70 165.71L78.77 165.48L78.84 165.27L78.91 165.06L78.98 164.86L79.05 164.67L79.12 164.49L79.18 164.31L79.25 164.15L79.32 163.99L79.39 163.83L79.46 163.68L79.53 163.54L79.60 163.40L79.67 163.26L79.74 163.13L79.80 163.00L79.87 162.88L79.94 162.75L80.01 162.63L80.08 162.52L80.15 162.40L80.22 162.29L80.29 162.18L80.36 162.07L80.42 161.96L80.49 161.86L80.56 161.75L80.63 161.65L80.70 161.55L80.77 161.45L80.84 161.35L80.91 161.25L80.98 161.16L81.04 161.07L81.11 160.98L81.18 160.89L81.25 160.80L81.32 160.71L81.39 160.62L81.46 160.54L81.53 160.45L81.60 160.37L81.66 160.29L81.73 160.21L81.80 160.12L81.87 160.04L81.94 159.96L82.01 159.88L82.08 159.80L82.15 159.72L82.22 159.64L82.28 159.56L82.35 159.48L82.42 159.40L82.49 159.32L82.56 159.24L82.63 159.16L82.70 159.08L82.77 158.99L82.84 158.91L82.90 158.83L82.97 158.75L83.04 158.66L83.11 158.58L83.18 158.50L83.25 158.42L83.32 158.34L83.39 158.26L83.46 158.17L83.52 158.09L83.59 158.01L83.66 157.93L83.73 157.85L83.80 157.77L83.87 157.69L83.94 157.61L84.01 157.54L84.08 157.46L84.14 157.38L84.21 157.30L84.28 157.23L84.35 157.15L84.42 157.07L84.49 157.00L84.56 156.93L84.63 156.85L84.70 156.78L84.76 156.71L84.83 156.64L84.90 156.56L84.97 156.49L85.04 156.42L85.11 156.35L85.18 156.29L85.25 156.22L85.32 156.15L85.38 156.08L85.45 156.01L85.52 155.95L85.59 155.88L85.66 155.81L85.73 155.75L85.80 155.68L85.87 155.62L85.94 155.55L86.00 155.49L86.07 155.42L86.14 155.36L86.21 155.30L86.28 155.23L86.35 155.17L86.42 155.11L86.49 155.04L86.56 154.98L86.62 154.92L86.69 154.86L86.76 154.80L86.83 154.74L86.90 154.68L86.97 154.62L87.04 154.56L87.11 154.50L87.18 154.44L87.24 154.38L87.31 154.32L87.38 154.26L87.45 154.20L87.52 154.14L87.59 154.08L87.66 154.03L87.73 153.97L87.80 153.91L87.86 153.86L87.93 153.80L88.00 153.74L88.07 153.69L88.14 153.63L88.21 153.58L88.28 153.52L88.35 153.47L88.42 153.41L88.48 153.36L88.55 153.30L88.62 153.25L88.69 153.19L88.76 153.14L88.83 153.09L88.90 153.04L88.97 152.98L89.04 152.93L89.10 152.88L89.17 152.82L89.24 152.77L89.31 152.72L89.38 152.67L89.45 152.62L89.52 152.57L89.59 152.51L89.66 152.46L89.72 152.41L89.79 152.36L89.86 152.31L89.93 152.26L90.00 152.21L90.07 152.16L90.14 152.10L90.21 152.05L90.28 152.00L90.34 151.95L90.41 151.90L90.48 151.85L90.55 151.80L90.62 151.75L90.69 151.70L90.76 151.65L90.83 151.60L90.90 151.55L90.96 151.50L91.03 151.44L91.10 151.39L91.17 151.34L91.24 151.29L91.31 151.24L91.38 151.19L91.45 151.14L91.52 151.09L91.58 151.03L91.65 150.98L91.72 150.93L91.79 150.88L91.86 150.83L91.93 150.78L92.00 150.73L92.07 150.68L92.14 150.63L92.20 150.58L92.27 150.53L92.34 150.48L92.41 150.43L92.48 150.38L92.55 150.33L92.62 150.28L92.69 150.23L92.76 150.18L92.82 150.13L92.89 150.08L92.96 150.03L93.03 149.98L93.10 149.94L93.17 149.89L93.24 149.84L93.31 149.79L93.38 149.74L93.44 149.69L93.51 149.65L93.58 149.60L93.65 149.55L93.72 149.50L93.79 149.45L93.86 149.41L93.93 149.36L94.00 149.31L94.06 149.26L94.13 149.21L94.20 149.17L94.27 149.12L94.34 149.07L94.41 149.02L94.48 148.97L94.55 148.93L94.62 148.88L94.68 148.83L94.75 148.78L94.82 148.73L94.89 148.69L94.96 148.64L95.03 148.59L95.10 148.54L95.17 148.50L95.24 148.45L95.30 148.40L95.37 148.35L95.44 148.31L95.51 148.26L95.58 148.21L95.65 148.16L95.72 148.12L95.79 148.07L95.86 148.02L95.92 147.97L95.99 147.93L96.06 147.88L96.13 147.83L96.20 147.78L96.27 147.74L96.34 147.69L96.41 147.64L96.48 147.59L96.54 147.55L97.37 146.98L98.20 146.42L99.02 145.86L99.85 145.30L100.68 144.75L101.50 144.19L102.33 143.64L103.16 143.10L103.98 142.55L104.81 142.00L105.64 141.46L106.46 140.92L107.29 140.38L108.11 139.84L108.94 139.31L109.77 138.77L110.59 138.24L111.42 137.70L112.25 137.17L113.07 136.64L113.90 136.11L114.73 135.58L115.55 135.05L116.38 134.52L117.21 133.99L118.03 133.46L118.86 132.93L119.68 132.40L120.51 131.87L121.34 131.34L122.16 130.81L122.99 130.28L123.82 129.75L124.64 129.22L125.47 128.69L126.30 128.17L127.12 127.64L127.95 127.12L128.77 126.61L129.60 126.09L130.43 125.58L131.25 125.06L132.08 124.55L132.91 124.04L133.73 123.53L134.56 123.02L135.39 122.52L136.21 122.01L137.04 121.50L137.87 120.99L138.69 120.48L139.52 119.97L140.34 119.46L141.17 118.95L142.00 118.44L142.82 117.93L143.65 117.41L144.48 116.89L145.30 116.38L146.13 115.86L146.96 115.33L147.78 114.81L148.61 114.28L149.44 113.75L150.26 113.21L151.09 112.68L151.91 112.13L152.74 111.59L153.57 111.04L154.39 110.49L155.22 109.93L156.05 109.37L156.87 108.81L157.70 108.24L158.53 107.68L159.35 107.11L160.18 106.54L161.00 105.96L161.83 105.39L162.66 104.81L163.48 104.23L164.31 103.65L165.14 103.06L165.96 102.47L166.79 101.88L167.62 101.29L168.44 100.69L169.27 100.09L170.10 99.49L170.92 98.89L171.75 98.28L172.57 97.67L173.40 97.06L174.23 96.44L175.05 95.82L175.88 95.20L176.71 94.58L177.53 93.95L178.36 93.32L179.19 92.68L180.01 92.05L180.84 91.41L181.66 90.76L182.49 90.11L183.32 89.46L184.14 88.81L184.97 88.15L185.80 87.48L186.62 86.81L187.45 86.14L188.28 85.46L189.10 84.78L189.93 84.10L190.76 83.41L191.58 82.72L192.41 82.02L193.23 81.32L194.06 80.62L194.89 79.92L195.71 79.21L196.54 78.50L197.37 77.79L198.19 77.07L199.02 76.35L199.85 75.63L200.67 74.91L201.50 74.18L202.33 73.46L203.15 72.73L203.98 72.00L204.80 71.26L205.63 70.53L206.46 69.79L207.28 69.06L208.11 68.32L208.94 67.58L209.76 66.84L210.59 66.10L211.42 65.35L212.24 64.61L213.07 63.87L213.89 63.13L214.72 62.38L215.55 61.64L216.37 60.89L217.20 60.15L218.03 59.40L218.85 58.66L219.68 57.92L220.51 57.17L221.33 56.43L222.16 55.69L222.99 54.95L223.81 54.21L224.64 53.47L225.46 52.73L226.29 51.99L227.12 51.26L227.94 50.52L228.77 49.79L229.60 49.06L230.42 48.33L231.25 47.59L232.08 46.86L232.90 46.13L233.73 45.39L234.55 44.65L235.38 43.92L236.21 43.18L237.03 42.44L237.86 41.71L238.69 40.97L239.51 40.23L240.34 39.49L241.17 38.75L241.99 38.01L242.82 37.27L243.65 36.53L244.47 35.79L245.30 35.04L246.12 34.30L246.95 33.56L247.78 32.81L248.60 32.07L249.43 31.32L250.26 30.58L251.08 29.83L251.91 29.09L252.74 28.34L253.56 27.59L254.39 26.84L255.22 26.10L256.04 25.35L256.87 24.60L257.69 23.85L258.52 23.10L259.35 22.35L260.17 21.60L261.00 20.85" stroke="#ff7f0e" stroke-width="7.0" fill="none" stroke-linejoin="round" stroke-linecap="butt"/>
</g>
<path d="M48.80 212.80v-6.50M48.80 0.70v6.50M70.02 212.80v-3.70M70.02 0.70v3.70M91.24 212.80v-3.70M91.24 0.70v3.70M112.46 212.80v-3.70M112.46 0.70v3.70M133.68 212.80v-3.70M133.68 0.70v3.70M154.90 212.80v-6.50M154.90 0.70v6.50M176.12 212.80v-3.70M176.12 0.70v3.70M197.34 212.80v-3.70M197.34 0.70v3.70M218.56 212.80v-3.70M218.56 0.70v3.70M239.78 212.80v-3.70M239.78 0.70v3.70M261.00 212.80v-6.50M261.00 0.70v6.50M48.80 212.80h6.50M261.00 212.80h-6.50M48.80 195.83h3.70M261.00 195.83h-3.70M48.80 178.86h3.70M261.00 178.86h-3.70M48.80 161.90h3.70M261.00 161.90h-3.70M48.80 144.93h3.70M261.00 144.93h-3.70M48.80 127.96h6.50M261.00 127.96h-6.50M48.80 110.99h3.70M261.00 110.99h-3.70M48.80 94.02h3.70M261.00 94.02h-3.70M48.80 77.06h3.70M261.00 77.06h-3.70M48.80 60.09h3.70M261.00 60.09h-3.70M48.80 43.12h6.50M261.00 43.12h-6.50M48.80 26.15h3.70M261.00 26.15h-3.70M48.80 9.18h3.70M261.00 9.18h-3.70" stroke="#000" stroke-width="1.23" fill="none"/>
<rect x="48.80" y="0.70" width="212.20" height="212.10" fill="none" stroke="#000" stroke-width="1.35"/>
<text x="48.80" y="233.60" font-size="18.8" text-anchor="middle" fill="#000" textLength="8.84" lengthAdjust="spacingAndGlyphs" >0</text>
<text x="155.10" y="233.60" font-size="18.8" text-anchor="middle" fill="#000" textLength="26.51" lengthAdjust="spacingAndGlyphs" >100</text>
<text x="261.20" y="233.60" font-size="18.8" text-anchor="middle" fill="#000" textLength="26.51" lengthAdjust="spacingAndGlyphs" >200</text>
<text x="22.6" y="217.80" font-size="18.0" textLength="23.4" lengthAdjust="spacingAndGlyphs">0.0</text>
<text x="22.6" y="132.96" font-size="18.0" textLength="23.4" lengthAdjust="spacingAndGlyphs">0.2</text>
<text x="22.6" y="48.12" font-size="18.0" textLength="23.4" lengthAdjust="spacingAndGlyphs">0.4</text>
<text x="77.94" y="263.65" font-size="22.5" fill="#000" textLength="154.11" lengthAdjust="spacingAndGlyphs" >Temperature (K)</text>
<text transform="translate(15.20,213.75) rotate(-90)" font-size="20.4" textLength="183.90" lengthAdjust="spacingAndGlyphs" >Resistivity (mΩ cm)</text>
<text x="58.61" y="30.10" font-size="21.7" fill="#000" textLength="26.16" lengthAdjust="spacingAndGlyphs" >(a)</text>
<text x="114.05" y="90.20" font-size="17.7" fill="#ff7f0e" textLength="37.28" lengthAdjust="spacingAndGlyphs" >7 nm</text>
<text x="211.86" y="74.60" font-size="17.7" fill="#22c55a" textLength="46.52" lengthAdjust="spacingAndGlyphs" >16 nm</text>
<text x="201.16" y="145.70" font-size="17.7" fill="#ff0000" textLength="46.52" lengthAdjust="spacingAndGlyphs" >10 nm</text>
<text x="108.74" y="193.40" font-size="17.7" fill="#0000ff" textLength="47.25" lengthAdjust="spacingAndGlyphs" >25 nm</text>
<g clip-path="url(#kb)">
<path d="M345.88 212.80L346.22 212.80L346.56 212.80L346.90 212.80L347.24 212.80L347.58 212.80L347.92 212.80L348.26 212.80L348.60 212.80L348.94 212.80L349.28 212.80L349.62 212.80L349.96 212.80L350.30 212.80L350.64 212.80L350.98 212.80L351.32 212.80L351.66 212.80L352.00 212.80L352.34 212.80L352.68 212.80L353.02 212.80L353.36 212.80L353.70 212.80L354.04 212.80L354.38 212.80L354.72 212.80L355.06 212.80L355.40 212.80L355.74 212.80L356.08 212.80L356.42 212.80L356.76 212.80L357.10 212.80L357.44 212.80L357.78 212.80L358.12 212.80L358.46 212.80L358.80 212.80L359.14 212.80L359.48 212.80L359.82 212.80L360.16 212.80L360.50 212.80L360.84 212.80L361.18 212.80L361.52 212.80L361.86 212.80L362.20 212.80L362.54 212.80L362.88 212.80L363.22 212.80L363.56 212.80L363.90 212.80L364.24 212.80L364.58 212.80L364.92 212.80L365.26 212.80L365.60 212.80L365.94 212.80L366.28 212.80L366.62 212.80L366.96 212.80L367.30 212.80L367.64 212.80L367.98 212.80L368.32 212.80L368.66 212.80L369.00 212.80L369.34 212.80L369.68 212.80L370.02 212.80L370.36 212.80L370.70 212.80L371.04 212.80L371.38 212.80L371.72 212.80L372.06 212.80L372.40 212.80L372.74 212.80L373.08 212.80L373.42 212.80L373.76 212.80L374.10 212.80L374.44 212.80L374.78 212.80L375.12 212.80L375.46 212.80L375.80 212.80L376.14 212.80L376.48 212.80L376.82 212.80L377.16 212.80L377.50 212.80L377.84 212.80L378.18 212.80L378.52 212.80L378.86 212.80L379.20 212.80L379.54 212.80L379.88 212.80L380.22 212.80L380.56 212.80L380.90 212.80L381.24 212.80L381.58 212.80L381.92 212.80L382.26 212.80L382.60 212.80L382.94 212.80L383.28 212.80L383.62 212.80L383.96 212.80L384.30 212.80L384.64 212.80L384.98 212.80L385.32 212.80L385.66 212.80L386.00 212.80L386.34 212.80L386.68 212.80L387.02 212.80L387.36 212.80L387.69 212.80L388.03 212.80L388.37 212.80L388.71 212.80L389.05 212.80L389.39 212.80L389.73 212.80L390.07 212.80L390.41 212.80L390.75 212.80L391.09 212.80L391.43 212.80L391.77 212.80L392.11 212.80L392.45 212.80L392.79 212.80L393.13 212.80L393.47 212.80L393.81 212.80L394.15 212.80L394.49 212.80L394.83 212.80L395.17 212.80L395.51 212.80L395.85 212.80L396.19 212.80L396.53 212.80L396.87 212.80L397.21 212.80L397.55 212.80L397.89 212.80L398.23 212.80L398.57 212.80L398.91 212.80L399.25 212.80L399.59 212.80L399.93 212.80L400.27 212.80L400.61 212.80L400.95 212.80L401.29 212.80L401.63 212.80L401.97 212.80L402.31 212.80L402.65 212.80L402.99 212.80L403.33 212.80L403.67 212.80L404.01 212.80L404.35 212.80L404.69 212.80L405.03 212.80L405.37 212.80L405.71 212.80L406.05 212.80L406.39 212.80L406.73 212.80L407.07 212.80L407.41 212.80L407.75 212.80L408.09 212.80L408.43 212.80L408.77 212.80L409.11 212.80L409.45 212.80L409.79 212.80L410.13 212.80L410.47 212.80L410.81 212.80L411.15 212.80L411.49 212.80L411.83 212.80L412.17 212.80L412.51 212.80L412.85 212.80L413.19 212.80L413.53 212.80L413.87 212.80L414.21 212.80L414.55 212.80L414.89 212.80L415.23 212.80L415.57 212.80L415.91 212.80L416.25 212.80L416.59 212.80L416.93 212.80L417.27 212.80L417.61 212.80L417.95 212.80L418.29 212.80L418.63 212.80L418.97 212.80L419.31 212.80L419.65 212.80L419.99 212.80L420.33 212.80L420.67 212.80L421.01 212.80L421.35 212.80L421.39 212.80L421.69 212.80L422.03 212.79L422.37 212.78L422.71 212.76L423.05 212.74L423.39 212.71L423.73 212.68L424.07 212.64L424.41 212.60L424.75 212.56L425.09 212.51L425.43 212.46L425.77 212.40L426.11 212.34L426.45 212.28L426.79 212.21L427.13 212.14L427.47 212.06L427.81 211.99L428.15 211.91L428.49 211.82L428.82 211.74L428.83 211.74L429.17 211.63L429.51 211.49L429.85 211.32L430.19 211.12L430.53 210.89L430.87 210.63L431.21 210.35L431.55 210.04L431.89 209.72L432.23 209.37L432.57 209.01L432.91 208.63L433.25 208.23L433.59 207.83L433.85 207.50L433.92 207.41L434.26 206.91L434.60 206.31L434.94 205.64L435.28 204.91L435.62 204.14L435.96 203.34L436.30 202.54L436.64 201.75L436.98 201.00L436.98 200.99L437.32 200.26L437.66 199.52L438.00 198.79L438.34 198.05L438.68 197.31L439.02 196.55L439.36 195.77L439.70 194.98L440.04 194.16L440.38 193.32L440.72 192.45L440.80 192.25L441.06 191.55L441.40 190.61L441.74 189.65L442.08 188.66L442.42 187.65L442.76 186.60L443.10 185.53L443.44 184.43L443.78 183.31L444.12 182.15L444.46 180.98L444.72 180.06L444.80 179.77L445.14 178.51L445.48 177.19L445.82 175.82L446.16 174.41L446.50 172.96L446.84 171.50L447.16 170.11L447.18 170.03L447.52 168.51L447.86 166.94L448.20 165.34L448.54 163.73L448.88 162.13L449.22 160.56L449.34 160.04L449.56 159.02L449.90 157.50L450.24 155.99L450.58 154.49L450.92 153.00L451.26 151.55L451.60 150.11L451.67 149.83L451.94 148.70L452.28 147.28L452.62 145.87L452.96 144.48L453.30 143.13L453.64 141.85L453.98 140.63L454.16 140.02L454.32 139.50L454.66 138.39L455.00 137.32L455.34 136.30L455.68 135.34L456.02 134.47L456.36 133.70L456.44 133.53L456.70 133.01L457.04 132.37L457.38 131.76L457.72 131.19L458.06 130.65L458.40 130.15L458.74 129.68L459.08 129.25L459.42 128.85L459.62 128.62L459.76 128.48L460.10 128.14L460.44 127.81L460.78 127.51L461.12 127.22L461.46 126.95L461.80 126.69L462.14 126.44L462.48 126.19L462.82 125.96L463.16 125.72L463.50 125.48L463.84 125.25L464.13 125.04L464.18 125.01L464.52 124.77L464.86 124.52L465.20 124.28L465.54 124.04L465.88 123.80L466.22 123.56L466.56 123.32L466.90 123.09L467.24 122.86L467.58 122.64L467.92 122.43L468.26 122.22L468.60 122.03L468.94 121.84L469.28 121.66L469.62 121.49L469.96 121.33L469.96 121.33L470.30 121.19L470.64 121.05L470.98 120.91L471.32 120.79L471.66 120.66L472.00 120.55L472.34 120.43L472.68 120.32L473.02 120.21L473.36 120.11L473.70 120.01L474.04 119.90L474.38 119.80L474.72 119.70L475.06 119.60L475.40 119.50L475.74 119.40L476.08 119.30L476.42 119.19L476.76 119.08L477.10 118.97L477.17 118.95L477.44 118.86L477.78 118.74L478.12 118.63L478.46 118.51L478.80 118.40L479.14 118.28L479.48 118.17L479.82 118.05L480.15 117.94L480.49 117.82L480.83 117.70L481.17 117.59L481.51 117.47L481.85 117.35L482.19 117.24L482.53 117.12L482.87 117.00L483.21 116.89L483.55 116.77L483.89 116.65L484.23 116.53L484.57 116.42L484.91 116.30L485.25 116.18L485.59 116.06L485.93 115.95L486.27 115.83L486.61 115.71L486.95 115.59L487.29 115.48L487.63 115.36L487.97 115.24L488.31 115.12L488.65 115.00L488.99 114.89L489.33 114.77L489.67 114.65L490.01 114.53L490.35 114.42L490.69 114.30L491.03 114.18L491.37 114.06L491.71 113.95L492.05 113.83L492.39 113.71L492.73 113.60L493.07 113.48L493.41 113.36L493.75 113.25L494.09 113.13L494.43 113.01L494.77 112.90L495.11 112.78L495.45 112.67L495.79 112.55L496.13 112.43L496.47 112.32L496.48 112.32L496.81 112.20L497.15 112.09L497.49 111.97L497.83 111.86L498.17 111.74L498.51 111.63L498.85 111.51L499.19 111.40L499.53 111.28L499.87 111.17L500.21 111.05L500.55 110.94L500.89 110.82L501.23 110.71L501.57 110.59L501.91 110.48L502.25 110.36L502.59 110.25L502.93 110.13L503.27 110.02L503.61 109.90L503.95 109.79L504.29 109.67L504.63 109.56L504.97 109.44L505.31 109.33L505.65 109.21L505.99 109.10L506.33 108.98L506.67 108.87L507.01 108.75L507.35 108.64L507.69 108.52L508.03 108.41L508.37 108.29L508.71 108.18L509.05 108.06L509.39 107.95L509.73 107.83L510.07 107.72L510.41 107.60L510.75 107.49L511.09 107.38L511.43 107.26L511.77 107.15L512.11 107.03L512.45 106.92L512.79 106.81L513.13 106.69L513.47 106.58L513.81 106.46L514.15 106.35L514.49 106.24L514.83 106.12L515.17 106.01L515.51 105.90L515.85 105.78L516.19 105.67L516.53 105.56L516.87 105.44L517.21 105.33L517.55 105.22L517.89 105.10L518.23 104.99L518.57 104.88L518.91 104.76L519.25 104.65L519.59 104.54L519.93 104.43L520.27 104.31L520.61 104.20L520.95 104.09L521.29 103.98L521.63 103.87L521.97 103.75L522.31 103.64L522.65 103.53L522.99 103.42L523.33 103.31L523.67 103.20L524.01 103.09L524.35 102.97L524.69 102.86L525.03 102.75L525.37 102.64L525.71 102.53L526.05 102.42L526.38 102.31L526.72 102.20L527.06 102.09L527.40 101.98L527.74 101.87L528.08 101.76L528.42 101.65L528.76 101.54L529.10 101.43L529.44 101.32L529.78 101.21L529.88 101.18L530.12 101.10L530.46 101.00L530.80 100.89L531.14 100.78L531.48 100.67L531.82 100.56L532.16 100.45L532.50 100.35L532.84 100.24L533.18 100.13L533.52 100.02L533.86 99.91L534.20 99.81L534.54 99.70L534.88 99.59L535.22 99.49L535.56 99.38L535.90 99.27L536.24 99.16L536.58 99.06L536.92 98.95L537.26 98.85L537.60 98.74L537.94 98.63L538.28 98.53L538.62 98.42L538.96 98.31L539.30 98.21L539.64 98.10L539.98 98.00L540.32 97.89L540.66 97.79L541.00 97.68L541.34 97.58L541.68 97.47L542.02 97.37L542.36 97.26L542.70 97.16L543.04 97.05L543.38 96.95L543.72 96.84L544.06 96.74L544.40 96.64L544.74 96.53L545.08 96.43L545.42 96.32L545.76 96.22L546.10 96.12L546.44 96.01L546.78 95.91L547.12 95.81L547.46 95.70L547.80 95.60L548.14 95.50L548.48 95.39L548.82 95.29L549.16 95.19L549.50 95.08" stroke="#0000ff" stroke-width="6.1" fill="none" stroke-linejoin="round" stroke-linecap="butt"/>
<path d="M347.21 212.80L347.55 212.80L347.89 212.80L348.22 212.80L348.56 212.80L348.90 212.80L349.24 212.80L349.57 212.80L349.91 212.80L350.25 212.80L350.59 212.80L350.92 212.80L351.26 212.80L351.60 212.80L351.94 212.80L352.28 212.80L352.61 212.80L352.95 212.80L353.29 212.80L353.63 212.80L353.96 212.80L354.30 212.80L354.64 212.80L354.98 212.80L355.31 212.80L355.65 212.80L355.99 212.80L356.33 212.80L356.67 212.80L357.00 212.80L357.34 212.80L357.68 212.80L358.02 212.80L358.35 212.80L358.69 212.80L359.03 212.80L359.37 212.80L359.71 212.80L360.04 212.80L360.38 212.80L360.72 212.80L361.06 212.80L361.39 212.80L361.73 212.80L362.07 212.80L362.41 212.80L362.74 212.80L363.08 212.80L363.42 212.80L363.76 212.80L364.10 212.80L364.43 212.80L364.77 212.80L365.11 212.80L365.45 212.80L365.78 212.80L366.12 212.80L366.46 212.80L366.80 212.80L367.13 212.80L367.47 212.80L367.81 212.80L368.15 212.80L368.49 212.80L368.82 212.80L369.16 212.80L369.50 212.80L369.84 212.80L370.17 212.80L370.51 212.80L370.85 212.80L371.19 212.80L371.52 212.80L371.86 212.80L372.20 212.80L372.54 212.80L372.88 212.80L373.21 212.80L373.55 212.80L373.89 212.80L374.23 212.80L374.56 212.80L374.90 212.80L375.24 212.80L375.58 212.80L375.92 212.80L376.25 212.80L376.59 212.80L376.93 212.80L377.27 212.80L377.60 212.80L377.94 212.80L378.28 212.80L378.62 212.80L378.95 212.80L379.29 212.80L379.63 212.80L379.97 212.80L380.31 212.80L380.64 212.80L380.98 212.80L381.32 212.80L381.66 212.80L381.99 212.80L382.33 212.80L382.67 212.80L383.01 212.80L383.34 212.80L383.68 212.80L384.02 212.80L384.36 212.80L384.70 212.80L385.03 212.80L385.37 212.80L385.71 212.80L386.05 212.80L386.38 212.80L386.72 212.80L387.06 212.80L387.40 212.80L387.74 212.80L388.07 212.80L388.41 212.80L388.75 212.80L389.09 212.80L389.42 212.80L389.76 212.80L390.10 212.80L390.44 212.80L390.77 212.80L391.11 212.80L391.45 212.80L391.79 212.80L392.13 212.80L392.46 212.80L392.80 212.80L393.14 212.80L393.48 212.80L393.81 212.80L394.15 212.80L394.49 212.80L394.83 212.80L395.16 212.80L395.50 212.80L395.84 212.80L396.18 212.80L396.52 212.80L396.85 212.80L397.19 212.80L397.53 212.80L397.87 212.80L398.20 212.80L398.54 212.80L398.88 212.80L399.22 212.80L399.56 212.80L399.89 212.80L400.23 212.80L400.57 212.80L400.91 212.80L401.24 212.80L401.58 212.80L401.92 212.80L402.26 212.80L402.59 212.80L402.93 212.80L403.27 212.80L403.61 212.80L403.95 212.80L404.28 212.80L404.62 212.80L404.96 212.80L405.30 212.80L405.63 212.80L405.97 212.80L406.31 212.80L406.65 212.80L406.98 212.80L407.32 212.80L407.66 212.80L408.00 212.80L408.34 212.80L408.67 212.80L409.01 212.80L409.35 212.80L409.69 212.80L410.02 212.80L410.36 212.80L410.70 212.80L411.04 212.80L411.38 212.80L411.71 212.80L412.05 212.80L412.39 212.80L412.73 212.80L413.06 212.80L413.40 212.80L413.74 212.80L414.08 212.80L414.41 212.80L414.75 212.80L415.09 212.80L415.43 212.80L415.77 212.80L416.10 212.80L416.44 212.80L416.78 212.80L417.12 212.80L417.45 212.80L417.79 212.80L418.13 212.80L418.47 212.80L418.80 212.80L419.14 212.80L419.48 212.80L419.82 212.80L420.16 212.80L420.49 212.80L420.83 212.80L421.17 212.80L421.51 212.80L421.84 212.80L422.18 212.80L422.52 212.80L422.86 212.80L423.20 212.80L423.53 212.80L423.87 212.80L424.21 212.80L424.55 212.80L424.88 212.80L425.22 212.80L425.56 212.80L425.90 212.80L426.23 212.80L426.57 212.80L426.91 212.80L427.25 212.80L427.59 212.80L427.92 212.80L428.26 212.80L428.60 212.80L428.94 212.80L429.27 212.80L429.61 212.80L429.95 212.80L430.29 212.80L430.62 212.80L430.96 212.80L431.30 212.80L431.64 212.80L431.98 212.80L432.31 212.80L432.65 212.80L432.99 212.80L433.33 212.80L433.66 212.80L434.00 212.80L434.34 212.80L434.68 212.80L435.02 212.80L435.35 212.80L435.69 212.80L436.03 212.80L436.37 212.80L436.70 212.80L437.04 212.80L437.38 212.80L437.72 212.80L438.05 212.80L438.39 212.80L438.73 212.80L439.07 212.80L439.41 212.80L439.74 212.80L440.08 212.80L440.42 212.80L440.76 212.80L441.09 212.80L441.43 212.80L441.77 212.80L442.11 212.80L442.44 212.80L442.78 212.80L443.12 212.80L443.46 212.80L443.80 212.80L444.13 212.80L444.47 212.80L444.81 212.80L445.15 212.80L445.48 212.80L445.82 212.80L446.16 212.80L446.50 212.80L446.84 212.80L447.17 212.80L447.51 212.80L447.85 212.80L448.19 212.80L448.52 212.80L448.86 212.80L449.20 212.80L449.54 212.80L449.87 212.80L450.21 212.80L450.55 212.80L450.89 212.80L451.23 212.80L451.56 212.80L451.90 212.80L452.24 212.80L452.58 212.80L452.91 212.80L453.25 212.80L453.59 212.80L453.93 212.80L454.26 212.80L454.60 212.80L454.94 212.80L455.28 212.80L455.62 212.80L455.95 212.80L456.18 212.80L456.29 212.80L456.63 212.79L456.97 212.76L457.30 212.73L457.64 212.68L457.98 212.61L458.32 212.54L458.66 212.46L458.99 212.37L459.33 212.27L459.67 212.16L460.01 212.05L460.34 211.93L460.68 211.80L461.02 211.66L461.36 211.53L461.48 211.47L461.69 211.37L462.03 211.17L462.37 210.93L462.71 210.64L463.05 210.31L463.38 209.94L463.72 209.54L464.06 209.11L464.40 208.66L464.73 208.18L465.07 207.68L465.19 207.50L465.41 207.13L465.75 206.47L466.08 205.70L466.42 204.85L466.76 203.94L467.10 203.02L467.44 202.08L467.77 201.18L467.84 201.00L468.11 200.31L468.45 199.43L468.79 198.56L469.12 197.67L469.46 196.76L469.80 195.84L470.14 194.89L470.48 193.92L470.81 192.90L471.02 192.25L471.15 191.85L471.49 190.78L471.83 189.69L472.16 188.56L472.50 187.41L472.84 186.20L473.18 184.95L473.51 183.64L473.85 182.27L474.19 180.83L474.36 180.06L474.53 179.30L474.87 177.60L475.20 175.77L475.54 173.81L475.88 171.77L476.22 169.66L476.55 167.52L476.89 165.37L477.23 163.25L477.57 161.18L477.76 160.04L477.90 159.16L478.24 157.12L478.58 155.05L478.92 152.96L479.26 150.87L479.59 148.80L479.93 146.77L480.27 144.79L480.61 142.89L480.94 141.08L481.15 140.02L481.28 139.37L481.62 137.74L481.96 136.18L482.30 134.66L482.63 133.20L482.97 131.77L483.31 130.39L483.65 129.03L483.75 128.62L483.98 127.69L484.32 126.35L484.66 125.02L485.00 123.74L485.33 122.52L485.67 121.38L486.01 120.36L486.14 120.01L486.35 119.44L486.69 118.58L487.02 117.77L487.36 117.00L487.70 116.26L488.04 115.57L488.37 114.90L488.71 114.26L489.05 113.65L489.39 113.05L489.58 112.72L489.72 112.47L490.06 111.90L490.40 111.35L490.74 110.81L491.08 110.28L491.41 109.78L491.75 109.30L492.09 108.83L492.43 108.40L492.76 107.99L493.10 107.61L493.29 107.41L493.44 107.27L493.78 106.94L494.11 106.64L494.45 106.36L494.79 106.08L495.13 105.83L495.47 105.58L495.80 105.33L496.14 105.09L496.48 104.85L496.79 104.63L496.82 104.61L497.15 104.37L497.49 104.13L497.83 103.90L498.17 103.67L498.51 103.44L498.84 103.22L499.18 103.00L499.52 102.78L499.86 102.56L500.19 102.35L500.53 102.14L500.87 101.93L501.21 101.72L501.54 101.51L501.88 101.31L502.22 101.10L502.31 101.05L502.56 100.90L502.90 100.69L503.23 100.49L503.57 100.28L503.91 100.07L504.25 99.87L504.58 99.66L504.92 99.46L505.26 99.26L505.60 99.07L505.93 98.88L506.27 98.69L506.61 98.52L506.95 98.34L507.29 98.18L507.62 98.02L507.96 97.88L507.98 97.87L508.30 97.74L508.64 97.60L508.97 97.47L509.31 97.34L509.65 97.21L509.99 97.09L510.33 96.97L510.66 96.85L511.00 96.73L511.34 96.62L511.68 96.51L512.01 96.40L512.35 96.30L512.69 96.19L513.03 96.09L513.36 95.98L513.70 95.88L514.04 95.78L514.38 95.69L514.72 95.59L515.05 95.49L515.39 95.39L515.73 95.30L516.07 95.20L516.40 95.10L516.74 95.01L517.08 94.91L517.42 94.81L517.75 94.71L518.09 94.61L518.43 94.51L518.77 94.41L519.11 94.31L519.17 94.29L519.44 94.20L519.78 94.09L520.12 93.98L520.46 93.86L520.79 93.74L521.13 93.62L521.47 93.50L521.81 93.39L522.15 93.28L522.48 93.18L522.82 93.09L523.16 93.00L523.50 92.93L523.83 92.86L524.05 92.83L524.17 92.81L524.51 92.77L524.85 92.73L525.18 92.69L525.52 92.66L525.86 92.63L526.20 92.60L526.54 92.57L526.87 92.54L527.21 92.52L527.55 92.49L527.89 92.47L528.22 92.44L528.56 92.42L528.90 92.40L529.24 92.37L529.57 92.34L529.91 92.32L530.09 92.30L530.25 92.29L530.59 92.26L530.93 92.23L531.26 92.21L531.60 92.18L531.94 92.16L532.28 92.13L532.61 92.11L532.95 92.08L533.29 92.05L533.63 92.02L533.97 91.98L534.30 91.95L534.64 91.90L534.65 91.90L534.98 91.86L535.32 91.80L535.65 91.73L535.99 91.65L536.33 91.56L536.67 91.47L537.00 91.37L537.34 91.26L537.68 91.15L538.02 91.03L538.36 90.92L538.69 90.79L539.03 90.67L539.37 90.55L539.71 90.42L540.04 90.30L540.38 90.18L540.72 90.06L541.06 89.94L541.39 89.83L541.55 89.78L541.73 89.72L542.07 89.61L542.41 89.51L542.75 89.40L543.08 89.29L543.42 89.18L543.76 89.07L544.10 88.96L544.43 88.84L544.77 88.73L545.11 88.62L545.45 88.51L545.79 88.40L546.12 88.28L546.46 88.17L546.80 88.06L547.14 87.94L547.47 87.83L547.81 87.71L548.15 87.60L548.49 87.48L548.82 87.36L549.16 87.25L549.50 87.13" stroke="#22c55a" stroke-width="6.1" fill="none" stroke-linejoin="round" stroke-linecap="butt"/>
<path d="M348.54 212.80L348.87 212.80L349.21 212.80L349.54 212.80L349.88 212.80L350.21 212.80L350.55 212.80L350.88 212.80L351.22 212.80L351.55 212.80L351.89 212.80L352.23 212.80L352.56 212.80L352.90 212.80L353.23 212.80L353.57 212.80L353.90 212.80L354.24 212.80L354.57 212.80L354.91 212.80L355.25 212.80L355.58 212.80L355.92 212.80L356.25 212.80L356.59 212.80L356.92 212.80L357.26 212.80L357.59 212.80L357.93 212.80L358.26 212.80L358.60 212.80L358.94 212.80L359.27 212.80L359.61 212.80L359.94 212.80L360.28 212.80L360.61 212.80L360.95 212.80L361.28 212.80L361.62 212.80L361.96 212.80L362.29 212.80L362.63 212.80L362.96 212.80L363.30 212.80L363.63 212.80L363.97 212.80L364.30 212.80L364.64 212.80L364.97 212.80L365.31 212.80L365.65 212.80L365.98 212.80L366.32 212.80L366.65 212.80L366.99 212.80L367.32 212.80L367.66 212.80L367.99 212.80L368.33 212.80L368.67 212.80L369.00 212.80L369.34 212.80L369.67 212.80L370.01 212.80L370.34 212.80L370.68 212.80L371.01 212.80L371.35 212.80L371.68 212.80L372.02 212.80L372.36 212.80L372.69 212.80L373.03 212.80L373.36 212.80L373.70 212.80L374.03 212.80L374.37 212.80L374.70 212.80L375.04 212.80L375.38 212.80L375.71 212.80L376.05 212.80L376.38 212.80L376.72 212.80L377.05 212.80L377.39 212.80L377.72 212.80L378.06 212.80L378.39 212.80L378.73 212.80L379.07 212.80L379.40 212.80L379.74 212.80L380.07 212.80L380.41 212.80L380.74 212.80L381.08 212.80L381.41 212.80L381.75 212.80L382.09 212.80L382.42 212.80L382.76 212.80L383.09 212.80L383.43 212.80L383.76 212.80L384.10 212.80L384.43 212.80L384.77 212.80L385.10 212.80L385.44 212.80L385.78 212.80L386.11 212.80L386.45 212.80L386.78 212.80L387.12 212.80L387.45 212.80L387.79 212.80L388.12 212.80L388.46 212.80L388.80 212.80L389.13 212.80L389.47 212.80L389.80 212.80L390.14 212.80L390.47 212.80L390.81 212.80L391.14 212.80L391.48 212.80L391.81 212.80L392.15 212.80L392.49 212.80L392.82 212.80L393.16 212.80L393.49 212.80L393.83 212.80L394.16 212.80L394.50 212.80L394.83 212.80L395.17 212.80L395.51 212.80L395.84 212.80L396.18 212.80L396.51 212.80L396.85 212.80L397.18 212.80L397.52 212.80L397.85 212.80L398.19 212.80L398.52 212.80L398.86 212.80L399.20 212.80L399.53 212.80L399.87 212.80L400.20 212.80L400.54 212.80L400.87 212.80L401.21 212.80L401.54 212.80L401.88 212.80L402.22 212.80L402.55 212.80L402.89 212.80L403.22 212.80L403.56 212.80L403.89 212.80L404.23 212.80L404.56 212.80L404.90 212.80L405.23 212.80L405.57 212.80L405.91 212.80L406.24 212.80L406.58 212.80L406.91 212.80L407.25 212.80L407.58 212.80L407.92 212.80L408.25 212.80L408.59 212.80L408.93 212.80L409.26 212.80L409.60 212.80L409.93 212.80L410.27 212.80L410.60 212.80L410.94 212.80L411.27 212.80L411.61 212.80L411.94 212.80L412.28 212.80L412.62 212.80L412.95 212.80L413.29 212.80L413.62 212.80L413.96 212.80L414.29 212.80L414.63 212.80L414.96 212.80L415.30 212.80L415.64 212.80L415.97 212.80L416.31 212.80L416.64 212.80L416.98 212.80L417.31 212.80L417.65 212.80L417.98 212.80L418.32 212.80L418.65 212.80L418.99 212.80L419.33 212.80L419.66 212.80L420.00 212.80L420.33 212.80L420.67 212.80L421.00 212.80L421.34 212.80L421.67 212.80L422.01 212.80L422.35 212.80L422.68 212.80L423.02 212.80L423.35 212.80L423.69 212.80L424.02 212.80L424.36 212.80L424.69 212.80L425.03 212.80L425.36 212.80L425.70 212.80L426.04 212.80L426.37 212.80L426.71 212.80L427.04 212.80L427.38 212.80L427.71 212.80L428.05 212.80L428.38 212.80L428.72 212.80L429.06 212.80L429.39 212.80L429.73 212.80L430.06 212.80L430.40 212.80L430.73 212.80L431.07 212.80L431.40 212.80L431.74 212.80L432.07 212.80L432.41 212.80L432.75 212.80L433.08 212.80L433.42 212.80L433.75 212.80L434.09 212.80L434.42 212.80L434.76 212.80L435.09 212.80L435.43 212.80L435.77 212.80L436.10 212.80L436.44 212.80L436.77 212.80L437.11 212.80L437.44 212.80L437.78 212.80L438.11 212.80L438.45 212.80L438.78 212.80L439.12 212.80L439.46 212.80L439.79 212.80L440.13 212.80L440.46 212.80L440.80 212.80L441.13 212.80L441.47 212.80L441.80 212.80L442.14 212.80L442.48 212.80L442.81 212.80L443.15 212.80L443.48 212.80L443.82 212.80L444.15 212.80L444.49 212.80L444.82 212.80L445.16 212.80L445.49 212.80L445.83 212.80L446.17 212.80L446.50 212.80L446.84 212.80L447.17 212.80L447.51 212.80L447.84 212.80L448.18 212.80L448.51 212.80L448.85 212.80L449.19 212.80L449.52 212.80L449.86 212.80L450.19 212.80L450.53 212.80L450.86 212.80L451.20 212.80L451.53 212.80L451.87 212.80L452.20 212.80L452.54 212.80L452.88 212.80L453.21 212.80L453.55 212.80L453.88 212.80L454.22 212.80L454.55 212.80L454.89 212.80L455.22 212.80L455.56 212.80L455.90 212.80L456.23 212.80L456.57 212.80L456.90 212.80L457.24 212.80L457.57 212.80L457.91 212.80L458.24 212.80L458.58 212.80L458.91 212.80L459.25 212.80L459.59 212.80L459.92 212.80L460.26 212.80L460.59 212.80L460.93 212.80L461.26 212.80L461.60 212.80L461.93 212.80L462.27 212.80L462.61 212.80L462.94 212.80L463.28 212.80L463.61 212.80L463.95 212.80L464.28 212.80L464.62 212.80L464.95 212.80L465.19 212.80L465.29 212.80L465.62 212.79L465.96 212.76L466.30 212.71L466.63 212.65L466.97 212.58L467.30 212.50L467.64 212.40L467.97 212.29L468.31 212.18L468.64 212.05L468.98 211.91L469.32 211.77L469.65 211.62L469.96 211.47L469.99 211.46L470.32 211.26L470.66 210.98L470.99 210.65L471.33 210.25L471.66 209.81L472.00 209.33L472.33 208.82L472.67 208.28L473.01 207.73L473.14 207.50L473.34 207.15L473.68 206.48L474.01 205.72L474.35 204.90L474.68 204.03L475.02 203.12L475.35 202.20L475.69 201.29L475.80 201.00L476.03 200.38L476.36 199.45L476.70 198.50L477.03 197.53L477.37 196.54L477.70 195.52L478.04 194.46L478.37 193.38L478.71 192.26L478.71 192.25L479.04 191.10L479.38 189.90L479.72 188.66L480.05 187.39L480.39 186.07L480.72 184.73L481.06 183.36L481.39 181.96L481.73 180.53L481.84 180.06L482.06 179.07L482.40 177.52L482.74 175.91L483.07 174.23L483.41 172.52L483.74 170.79L484.08 169.06L484.41 167.34L484.75 165.66L485.08 164.02L485.42 162.45L485.75 160.96L485.98 160.04L486.09 159.58L486.43 158.23L486.76 156.90L487.10 155.59L487.43 154.31L487.77 153.05L488.10 151.81L488.44 150.59L488.77 149.41L489.11 148.24L489.45 147.10L489.78 145.99L490.12 144.91L490.45 143.85L490.79 142.83L491.12 141.83L491.46 140.86L491.76 140.02L491.79 139.92L492.13 139.00L492.46 138.10L492.80 137.23L493.14 136.39L493.47 135.57L493.81 134.80L494.14 134.06L494.48 133.37L494.81 132.73L494.88 132.60L495.15 132.13L495.48 131.56L495.82 131.02L496.16 130.51L496.49 130.01L496.83 129.54L497.16 129.09L497.50 128.66L497.83 128.24L498.07 127.96L498.17 127.84L498.50 127.44L498.84 127.06L499.17 126.69L499.51 126.32L499.85 125.97L500.18 125.63L500.52 125.30L500.85 124.97L501.19 124.67L501.52 124.37L501.86 124.08L502.19 123.81L502.31 123.72L502.53 123.54L502.87 123.29L503.20 123.03L503.54 122.79L503.87 122.55L504.21 122.31L504.54 122.08L504.88 121.86L505.21 121.64L505.55 121.43L505.88 121.22L506.22 121.03L506.56 120.83L506.89 120.65L507.23 120.46L507.56 120.29L507.90 120.12L508.14 120.01L508.23 119.96L508.57 119.80L508.90 119.65L509.24 119.50L509.58 119.35L509.91 119.20L510.25 119.06L510.58 118.92L510.92 118.78L511.25 118.64L511.59 118.50L511.92 118.37L512.26 118.24L512.59 118.11L512.93 117.98L513.27 117.86L513.60 117.73L513.94 117.61L514.27 117.49L514.61 117.37L514.94 117.25L515.28 117.14L515.61 117.02L515.95 116.91L516.29 116.80L516.62 116.69L516.96 116.58L517.29 116.47L517.63 116.36L517.96 116.25L518.30 116.14L518.63 116.04L518.97 115.93L519.30 115.83L519.64 115.72L519.98 115.62L520.31 115.52L520.65 115.41L520.98 115.31L521.32 115.21L521.65 115.11L521.99 115.00L522.32 114.90L522.66 114.80L523.00 114.70L523.33 114.59L523.67 114.49L524.00 114.39L524.34 114.28L524.67 114.18L525.01 114.07L525.11 114.04L525.34 113.97L525.68 113.86L526.01 113.76L526.35 113.65L526.69 113.55L527.02 113.44L527.36 113.34L527.69 113.23L528.03 113.13L528.36 113.03L528.70 112.92L529.03 112.82L529.37 112.72L529.71 112.61L530.04 112.51L530.38 112.41L530.71 112.31L531.05 112.21L531.38 112.11L531.72 112.00L532.05 111.90L532.39 111.80L532.72 111.70L533.06 111.60L533.40 111.50L533.73 111.41L534.07 111.31L534.40 111.21L534.74 111.11L535.07 111.01L535.41 110.92L535.74 110.82L536.08 110.72L536.42 110.62L536.75 110.53L537.09 110.43L537.42 110.34L537.76 110.24L538.09 110.15L538.43 110.05L538.76 109.96L539.10 109.86L539.43 109.77L539.77 109.68L540.11 109.59L540.44 109.49L540.78 109.40L541.11 109.31L541.45 109.22L541.78 109.13L542.12 109.04L542.45 108.95L542.79 108.86L543.13 108.77L543.46 108.68L543.80 108.59L544.13 108.50L544.47 108.41L544.80 108.33L545.14 108.24L545.47 108.15L545.81 108.07L546.14 107.98L546.48 107.90L546.82 107.81L547.15 107.73L547.49 107.64L547.82 107.56L548.16 107.48L548.49 107.39L548.83 107.31L549.16 107.23L549.50 107.15" stroke="#ff0000" stroke-width="6.1" fill="none" stroke-linejoin="round" stroke-linecap="butt"/>
<path d="M411.10 212.80L411.34 212.80L411.57 212.80L411.80 212.80L412.03 212.80L412.26 212.80L412.49 212.80L412.72 212.80L412.95 212.80L413.18 212.80L413.42 212.80L413.65 212.80L413.88 212.80L414.11 212.80L414.34 212.80L414.57 212.80L414.80 212.80L415.03 212.80L415.26 212.80L415.49 212.80L415.73 212.80L415.96 212.80L416.19 212.80L416.42 212.80L416.65 212.80L416.88 212.80L417.11 212.80L417.34 212.80L417.57 212.80L417.81 212.80L418.04 212.80L418.27 212.80L418.50 212.80L418.73 212.80L418.96 212.80L419.19 212.80L419.42 212.80L419.65 212.80L419.88 212.80L420.12 212.80L420.35 212.80L420.58 212.80L420.81 212.80L421.04 212.80L421.27 212.80L421.50 212.80L421.73 212.80L421.96 212.80L422.19 212.80L422.43 212.80L422.66 212.80L422.89 212.80L423.12 212.80L423.35 212.80L423.58 212.80L423.81 212.80L424.04 212.80L424.27 212.80L424.51 212.80L424.74 212.80L424.97 212.80L425.20 212.80L425.43 212.80L425.66 212.80L425.89 212.80L426.12 212.80L426.35 212.80L426.58 212.80L426.82 212.80L427.05 212.80L427.28 212.80L427.51 212.80L427.74 212.80L427.97 212.80L428.20 212.80L428.43 212.80L428.66 212.80L428.90 212.80L429.13 212.80L429.36 212.80L429.59 212.80L429.82 212.80L430.05 212.80L430.28 212.80L430.51 212.80L430.74 212.80L430.97 212.80L431.21 212.80L431.44 212.80L431.67 212.80L431.90 212.80L432.13 212.80L432.36 212.80L432.59 212.80L432.82 212.80L433.05 212.80L433.28 212.80L433.52 212.80L433.75 212.80L433.98 212.80L434.21 212.80L434.44 212.80L434.67 212.80L434.90 212.80L435.13 212.80L435.36 212.80L435.60 212.80L435.83 212.80L436.06 212.80L436.29 212.80L436.52 212.80L436.75 212.80L436.98 212.80L437.21 212.80L437.44 212.80L437.67 212.80L437.91 212.80L438.14 212.80L438.37 212.80L438.60 212.80L438.83 212.80L439.06 212.80L439.29 212.80L439.52 212.80L439.75 212.80L439.99 212.80L440.22 212.80L440.45 212.80L440.68 212.80L440.91 212.80L441.14 212.80L441.37 212.80L441.60 212.80L441.83 212.80L442.06 212.80L442.30 212.80L442.53 212.80L442.76 212.80L442.99 212.80L443.22 212.80L443.45 212.80L443.68 212.80L443.91 212.80L444.14 212.80L444.38 212.80L444.61 212.80L444.84 212.80L445.07 212.80L445.30 212.80L445.53 212.80L445.57 212.80L445.76 212.80L445.99 212.78L446.22 212.75L446.45 212.71L446.69 212.65L446.92 212.59L447.15 212.52L447.38 212.44L447.61 212.34L447.84 212.24L448.07 212.14L448.30 212.02L448.53 211.90L448.76 211.78L449.00 211.65L449.23 211.51L449.46 211.37L449.69 211.23L449.92 211.08L450.15 210.94L450.34 210.81L450.38 210.79L450.61 210.62L450.84 210.43L451.08 210.21L451.31 209.97L451.54 209.71L451.77 209.43L452.00 209.13L452.23 208.82L452.46 208.49L452.69 208.15L452.92 207.79L453.15 207.43L453.39 207.06L453.52 206.83L453.62 206.68L453.85 206.26L454.08 205.79L454.31 205.28L454.54 204.75L454.77 204.19L455.00 203.62L455.23 203.04L455.47 202.46L455.70 201.89L455.93 201.33L456.07 201.00L456.16 200.80L456.39 200.28L456.62 199.76L456.85 199.25L457.08 198.74L457.31 198.23L457.54 197.73L457.78 197.22L458.01 196.71L458.24 196.19L458.47 195.67L458.70 195.14L458.93 194.61L459.16 194.06L459.39 193.50L459.62 192.93L459.85 192.34L459.89 192.25L460.09 191.74L460.32 191.12L460.55 190.50L460.78 189.87L461.01 189.22L461.24 188.57L461.47 187.90L461.70 187.23L461.93 186.54L462.17 185.85L462.40 185.14L462.63 184.42L462.86 183.70L463.09 182.96L463.32 182.21L463.55 181.46L463.78 180.69L463.97 180.06L464.01 179.91L464.24 179.12L464.48 178.31L464.71 177.49L464.94 176.65L465.17 175.79L465.40 174.91L465.63 174.01L465.86 173.09L466.09 172.15L466.32 171.19L466.52 170.38L466.56 170.21L466.79 169.20L467.02 168.17L467.25 167.10L467.48 166.01L467.71 164.88L467.94 163.72L468.17 162.53L468.40 161.31L468.63 160.05L468.64 160.04L468.87 158.75L469.10 157.41L469.33 156.02L469.56 154.59L469.79 153.13L470.02 151.64L470.25 150.11L470.48 148.56L470.71 146.99L470.95 145.40L471.18 143.80L471.41 142.18L471.64 140.55L471.71 140.02L471.87 138.89L472.10 137.17L472.33 135.39L472.56 133.56L472.79 131.71L473.02 129.85L473.26 127.99L473.49 126.15L473.72 124.35L473.95 122.60L474.18 120.92L474.31 120.01L474.41 119.32L474.64 117.74L474.87 116.19L475.10 114.65L475.33 113.14L475.57 111.64L475.80 110.18L476.03 108.73L476.26 107.32L476.49 105.93L476.72 104.57L476.95 103.25L477.18 101.95L477.41 100.69L477.55 99.99L477.65 99.46L477.88 98.25L478.11 97.07L478.34 95.90L478.57 94.76L478.80 93.64L479.03 92.54L479.26 91.46L479.49 90.40L479.72 89.35L479.96 88.33L480.19 87.33L480.42 86.34L480.65 85.38L480.88 84.43L481.10 83.55L481.11 83.50L481.34 82.58L481.57 81.67L481.80 80.78L482.04 79.89L482.27 79.02L482.50 78.16L482.73 77.31L482.96 76.48L483.19 75.66L483.42 74.87L483.65 74.09L483.88 73.32L484.11 72.58L484.35 71.86L484.58 71.16L484.81 70.49L484.97 70.03L485.04 69.83L485.27 69.19L485.50 68.56L485.73 67.95L485.96 67.34L486.19 66.74L486.43 66.15L486.66 65.58L486.89 65.01L487.12 64.46L487.35 63.92L487.58 63.40L487.81 62.88L488.04 62.38L488.27 61.90L488.50 61.42L488.74 60.97L488.97 60.52L489.20 60.09L489.42 59.69L489.43 59.68L489.66 59.28L489.89 58.88L490.12 58.49L490.35 58.11L490.58 57.74L490.81 57.37L491.05 57.01L491.28 56.65L491.51 56.30L491.74 55.96L491.97 55.62L492.20 55.29L492.43 54.97L492.66 54.65L492.89 54.33L493.13 54.02L493.36 53.72L493.59 53.42L493.82 53.12L494.05 52.83L494.28 52.55L494.51 52.27L494.74 51.99L494.97 51.72L495.20 51.45L495.44 51.18L495.67 50.92L495.90 50.66L496.13 50.41L496.36 50.16L496.37 50.15L496.59 49.91L496.82 49.66L497.05 49.42L497.28 49.18L497.52 48.94L497.75 48.70L497.98 48.47L498.21 48.24L498.44 48.01L498.67 47.79L498.90 47.56L499.13 47.34L499.36 47.12L499.59 46.91L499.83 46.69L500.06 46.48L500.29 46.27L500.52 46.06L500.75 45.86L500.98 45.66L501.21 45.45L501.44 45.26L501.67 45.06L501.90 44.86L502.14 44.67L502.37 44.48L502.60 44.29L502.83 44.10L503.06 43.91L503.29 43.73L503.52 43.54L503.75 43.36L503.98 43.18L504.22 43.00L504.45 42.82L504.68 42.65L504.91 42.47L505.14 42.30L505.37 42.13L505.60 41.95L505.83 41.78L506.06 41.62L506.29 41.45L506.53 41.28L506.55 41.26L506.76 41.12L506.99 40.95L507.22 40.79L507.45 40.63L507.68 40.48L507.91 40.32L508.14 40.17L508.37 40.02L508.61 39.87L508.84 39.72L509.07 39.57L509.30 39.42L509.53 39.28L509.76 39.14L509.99 39.00L510.22 38.85L510.45 38.71L510.68 38.58L510.92 38.44L511.15 38.30L511.38 38.17L511.61 38.03L511.84 37.90L512.07 37.76L512.30 37.63L512.53 37.49L512.76 37.36L513.00 37.23L513.23 37.10L513.46 36.97L513.69 36.83L513.92 36.70L514.15 36.57L514.38 36.44L514.61 36.31L514.84 36.17L515.07 36.04L515.31 35.91L515.54 35.78L515.77 35.64L516.00 35.51L516.23 35.37L516.46 35.24L516.69 35.10L516.92 34.96L517.15 34.82L517.38 34.69L517.62 34.55L517.68 34.50L517.85 34.40L518.08 34.26L518.31 34.12L518.54 33.98L518.77 33.83L519.00 33.69L519.23 33.55L519.46 33.40L519.70 33.26L519.93 33.12L520.16 32.97L520.39 32.83L520.62 32.68L520.85 32.54L521.08 32.40L521.31 32.25L521.54 32.11L521.77 31.97L522.01 31.83L522.24 31.69L522.47 31.55L522.70 31.41L522.93 31.27L523.16 31.13L523.39 31.00L523.52 30.92L523.62 30.86L523.85 30.73L524.09 30.59L524.32 30.46L524.55 30.32L524.78 30.19L525.01 30.05L525.24 29.92L525.47 29.79L525.70 29.65L525.93 29.52L526.16 29.38L526.40 29.25L526.63 29.12L526.86 28.98L527.09 28.85L527.32 28.72L527.55 28.59L527.78 28.45L528.01 28.32L528.24 28.19L528.48 28.06L528.71 27.93L528.94 27.80L529.17 27.67L529.40 27.54L529.63 27.41L529.86 27.28L530.09 27.15L530.32 27.02L530.55 26.90L530.79 26.77L531.02 26.64L531.25 26.51L531.48 26.39L531.71 26.26L531.94 26.14L532.17 26.01L532.40 25.89L532.63 25.76L532.86 25.64L533.10 25.52L533.33 25.39L533.56 25.27L533.79 25.15L534.02 25.03L534.25 24.91L534.48 24.79L534.71 24.67L534.94 24.55L535.18 24.44L535.41 24.32L535.64 24.20L535.87 24.09L536.10 23.97L536.24 23.90L536.33 23.86L536.56 23.74L536.79 23.63L537.02 23.51L537.25 23.40L537.49 23.29L537.72 23.17L537.95 23.06L538.18 22.95L538.41 22.84L538.64 22.73L538.87 22.62L539.10 22.51L539.33 22.40L539.57 22.29L539.80 22.18L540.03 22.07L540.26 21.96L540.49 21.85L540.72 21.74L540.95 21.63L541.18 21.53L541.41 21.42L541.64 21.31L541.88 21.21L542.11 21.10L542.34 21.00L542.57 20.89L542.80 20.79L543.03 20.68L543.26 20.58L543.49 20.47L543.72 20.37L543.95 20.27L544.19 20.17L544.42 20.06L544.65 19.96L544.88 19.86L545.11 19.76L545.34 19.66L545.57 19.56L545.80 19.46L546.03 19.36L546.27 19.26L546.50 19.17L546.73 19.07L546.96 18.97L547.19 18.88L547.42 18.78L547.65 18.68L547.88 18.59L548.11 18.49L548.34 18.40L548.58 18.30L548.81 18.21L549.04 18.12L549.27 18.03L549.50 17.93" stroke="#ff7f0e" stroke-width="6.1" fill="none" stroke-linejoin="round" stroke-linecap="butt"/>
<path d="M436 130.8L512.3 105.7M461.4 101.6L446.6 174.8" stroke="#808080" stroke-width="3.0" stroke-linecap="round" fill="none"/>
</g>
<path d="M337.40 212.80v-6.50M337.40 0.70v6.50M348.00 212.80v-3.70M348.00 0.70v3.70M358.61 212.80v-3.70M358.61 0.70v3.70M369.21 212.80v-3.70M369.21 0.70v3.70M379.82 212.80v-3.70M379.82 0.70v3.70M390.42 212.80v-6.50M390.42 0.70v6.50M401.03 212.80v-3.70M401.03 0.70v3.70M411.63 212.80v-3.70M411.63 0.70v3.70M422.24 212.80v-3.70M422.24 0.70v3.70M432.84 212.80v-3.70M432.84 0.70v3.70M443.45 212.80v-6.50M443.45 0.70v6.50M454.06 212.80v-3.70M454.06 0.70v3.70M464.66 212.80v-3.70M464.66 0.70v3.70M475.26 212.80v-3.70M475.26 0.70v3.70M485.87 212.80v-3.70M485.87 0.70v3.70M496.48 212.80v-6.50M496.48 0.70v6.50M507.08 212.80v-3.70M507.08 0.70v3.70M517.68 212.80v-3.70M517.68 0.70v3.70M528.29 212.80v-3.70M528.29 0.70v3.70M538.89 212.80v-3.70M538.89 0.70v3.70M549.50 212.80v-6.50M549.50 0.70v6.50M337.40 212.80h6.50M549.50 212.80h-6.50M337.40 199.54h3.70M549.50 199.54h-3.70M337.40 186.29h3.70M549.50 186.29h-3.70M337.40 173.03h3.70M549.50 173.03h-3.70M337.40 159.78h3.70M549.50 159.78h-3.70M337.40 146.52h6.50M549.50 146.52h-6.50M337.40 133.26h3.70M549.50 133.26h-3.70M337.40 120.01h3.70M549.50 120.01h-3.70M337.40 106.75h3.70M549.50 106.75h-3.70M337.40 93.49h3.70M549.50 93.49h-3.70M337.40 80.24h6.50M549.50 80.24h-6.50M337.40 66.98h3.70M549.50 66.98h-3.70M337.40 53.72h3.70M549.50 53.72h-3.70M337.40 40.47h3.70M549.50 40.47h-3.70M337.40 27.21h3.70M549.50 27.21h-3.70M337.40 13.96h6.50M549.50 13.96h-6.50M337.40 0.70h3.70M549.50 0.70h-3.70" stroke="#000" stroke-width="1.23" fill="none"/>
<rect x="337.40" y="0.70" width="212.10" height="212.10" fill="none" stroke="#000" stroke-width="1.35"/>
<text x="337.40" y="233.80" font-size="18.8" text-anchor="middle" fill="#000" textLength="8.84" lengthAdjust="spacingAndGlyphs" >0</text>
<text x="390.72" y="233.80" font-size="18.8" text-anchor="middle" fill="#000" textLength="17.67" lengthAdjust="spacingAndGlyphs" >10</text>
<text x="443.75" y="233.80" font-size="18.8" text-anchor="middle" fill="#000" textLength="17.67" lengthAdjust="spacingAndGlyphs" >20</text>
<text x="496.78" y="233.80" font-size="18.8" text-anchor="middle" fill="#000" textLength="17.67" lengthAdjust="spacingAndGlyphs" >30</text>
<text x="549.80" y="233.80" font-size="18.8" text-anchor="middle" fill="#000" textLength="17.67" lengthAdjust="spacingAndGlyphs" >40</text>
<text x="301.75" y="217.80" font-size="18.0" textLength="32.2" lengthAdjust="spacingAndGlyphs">0.00</text>
<text x="301.75" y="151.52" font-size="18.0" textLength="32.2" lengthAdjust="spacingAndGlyphs">0.05</text>
<text x="301.75" y="85.24" font-size="18.0" textLength="32.2" lengthAdjust="spacingAndGlyphs">0.10</text>
<text x="301.75" y="18.96" font-size="18.0" textLength="32.2" lengthAdjust="spacingAndGlyphs">0.15</text>
<text x="374.34" y="262.40" font-size="22.5" fill="#000" textLength="153.21" lengthAdjust="spacingAndGlyphs" >Temperature (K)</text>
<text transform="translate(289.00,205.05) rotate(-90)" font-size="20.4" textLength="183.90" lengthAdjust="spacingAndGlyphs" >Resistivity (mΩ cm)</text>
<text x="349.10" y="30.60" font-size="21.7" fill="#000" textLength="27.83" lengthAdjust="spacingAndGlyphs" >(b)</text>
<text x="454.67" y="34.50" font-size="23.3" fill="#ff7f0e" textLength="48.53" lengthAdjust="spacingAndGlyphs" >7 nm</text>
<text x="489.13" y="82.30" font-size="23.3" fill="#22c55a" textLength="58.06" lengthAdjust="spacingAndGlyphs" >16 nm</text>
<text x="487.41" y="192.30" font-size="23.3" fill="#ff0000" textLength="58.38" lengthAdjust="spacingAndGlyphs" >10 nm</text>
<text x="366.49" y="184.50" font-size="23.3" fill="#0000ff" textLength="59.63" lengthAdjust="spacingAndGlyphs" >25 nm</text>
<text x="381.9" y="114.4" font-size="27" font-style="italic" textLength="16.1" lengthAdjust="spacingAndGlyphs">T</text>
<text x="396.6" y="119.6" font-size="18.5">c</text>
<text x="404.66" y="102.00" font-size="18.5" fill="#000" textLength="40.78" lengthAdjust="spacingAndGlyphs" >onset</text>
<path d="M622.45 212.80v-3.70M622.45 0.70v3.70M632.55 212.80v-3.70M632.55 0.70v3.70M642.65 212.80v-3.70M642.65 0.70v3.70M652.75 212.80v-6.50M652.75 0.70v6.50M662.85 212.80v-3.70M662.85 0.70v3.70M672.95 212.80v-3.70M672.95 0.70v3.70M683.05 212.80v-3.70M683.05 0.70v3.70M693.15 212.80v-3.70M693.15 0.70v3.70M703.25 212.80v-6.50M703.25 0.70v6.50M713.35 212.80v-3.70M713.35 0.70v3.70M723.45 212.80v-3.70M723.45 0.70v3.70M733.55 212.80v-3.70M733.55 0.70v3.70M743.65 212.80v-3.70M743.65 0.70v3.70M753.75 212.80v-6.50M753.75 0.70v6.50M763.85 212.80v-3.70M763.85 0.70v3.70M773.95 212.80v-3.70M773.95 0.70v3.70M784.05 212.80v-3.70M784.05 0.70v3.70M794.15 212.80v-3.70M794.15 0.70v3.70M804.25 212.80v-6.50M804.25 0.70v6.50M814.35 212.80v-3.70M814.35 0.70v3.70M824.45 212.80v-3.70M824.45 0.70v3.70M617.40 212.80h6.50M829.50 212.80h-6.50M617.40 200.68h3.70M829.50 200.68h-3.70M617.40 188.56h3.70M829.50 188.56h-3.70M617.40 176.44h3.70M829.50 176.44h-3.70M617.40 164.32h3.70M829.50 164.32h-3.70M617.40 152.20h6.50M829.50 152.20h-6.50M617.40 140.08h3.70M829.50 140.08h-3.70M617.40 127.96h3.70M829.50 127.96h-3.70M617.40 115.84h3.70M829.50 115.84h-3.70M617.40 103.72h3.70M829.50 103.72h-3.70M617.40 91.60h6.50M829.50 91.60h-6.50M617.40 79.48h3.70M829.50 79.48h-3.70M617.40 67.36h3.70M829.50 67.36h-3.70M617.40 55.24h3.70M829.50 55.24h-3.70M617.40 43.12h3.70M829.50 43.12h-3.70M617.40 31.00h6.50M829.50 31.00h-6.50M617.40 18.88h3.70M829.50 18.88h-3.70M617.40 6.76h3.70M829.50 6.76h-3.70" stroke="#000" stroke-width="1.23" fill="none"/>
<rect x="617.40" y="0.70" width="212.10" height="212.10" fill="none" stroke="#000" stroke-width="1.35"/>
<g clip-path="url(#kc)">
<path d="M618.50 140.10L619.75 140.13L620.99 140.17L622.23 140.23L623.47 140.31L624.71 140.40L625.94 140.50L627.18 140.61L628.41 140.73L629.64 140.86L630.87 141.00L632.09 141.14L633.32 141.29L634.54 141.44L635.76 141.60L636.98 141.78L638.20 141.99L639.41 142.22L640.63 142.47L641.84 142.74L643.06 143.02L644.26 143.32L645.47 143.64L646.67 143.96L647.86 144.29L649.05 144.63L650.23 144.97L651.40 145.34L652.57 145.74L653.73 146.17L654.88 146.62L656.03 147.09L657.18 147.56L658.33 148.03L659.48 148.50L660.64 148.95L661.79 149.40L662.94 149.86L664.09 150.31L665.24 150.77L666.38 151.24L667.53 151.71L668.67 152.18L669.82 152.65L670.97 153.12L672.11 153.59L673.26 154.06L674.41 154.53L675.55 155.00L676.70 155.48L677.84 155.96L678.98 156.45L680.11 156.94L681.24 157.44L682.37 157.95L683.50 158.46L684.62 158.98L685.73 159.51L686.84 160.05L687.95 160.60L689.06 161.16L690.16 161.72L691.26 162.29L692.36 162.86L693.46 163.45L694.55 164.04L695.64 164.64L696.72 165.25L697.80 165.86L698.87 166.48L699.93 167.11L700.99 167.75L702.04 168.40L703.08 169.05L704.13 169.71L705.18 170.38L706.23 171.05L707.28 171.73L708.33 172.42L709.37 173.12L710.41 173.83L711.43 174.56L712.44 175.29L713.43 176.04L714.41 176.81L715.36 177.59L716.28 178.39L717.18 179.21L718.04 180.04L718.89 180.91L719.73 181.81L720.55 182.73L721.36 183.69L722.16 184.66L722.93 185.66L723.67 186.68L724.39 187.71L725.08 188.75L725.73 189.80L726.35 190.85L726.93 191.92L727.49 193.00L728.02 194.10L728.54 195.23L729.03 196.36L729.51 197.51L729.97 198.68L730.42 199.84L730.85 201.02L731.28 202.19L731.70 203.36L732.11 204.53L732.51 205.70L732.90 206.87L733.28 208.05L733.65 209.23L734.00 210.42L734.35 211.61L734.68 212.80L735.00 214.00" stroke="#cdcdcd" stroke-width="9.4" fill="none" stroke-linejoin="round"/>
<rect x="619.05" y="134.45" width="8.9" height="8.9" fill="#808080"/>
<rect x="624.95" y="138.95" width="8.9" height="8.9" fill="#808080"/>
<rect x="630.25" y="137.45" width="8.9" height="8.9" fill="#808080"/>
<rect x="641.45" y="139.25" width="8.9" height="8.9" fill="#808080"/>
<rect x="640.75" y="140.15" width="8.9" height="8.9" fill="#808080"/>
<rect x="646.35" y="132.15" width="8.9" height="8.9" fill="#808080"/>
<rect x="650.05" y="134.25" width="8.9" height="8.9" fill="#808080"/>
<rect x="665.15" y="145.35" width="8.9" height="8.9" fill="#808080"/>
<rect x="682.05" y="153.95" width="8.9" height="8.9" fill="#808080"/>
<rect x="690.75" y="158.55" width="8.9" height="8.9" fill="#808080"/>
<rect x="689.85" y="167.75" width="8.9" height="8.9" fill="#808080"/>
<rect x="700.45" y="167.55" width="8.9" height="8.9" fill="#808080"/>
<rect x="707.75" y="167.55" width="8.9" height="8.9" fill="#808080"/>
<rect x="712.55" y="181.35" width="8.9" height="8.9" fill="#808080"/>
<rect x="717.95" y="182.55" width="8.9" height="8.9" fill="#808080"/>
<rect x="724.25" y="188.55" width="8.9" height="8.9" fill="#808080"/>
<rect x="728.55" y="193.55" width="8.9" height="8.9" fill="#808080"/>
<rect x="730.35" y="209.0" width="9.3" height="6" fill="#808080"/>
<path d="M735.00 212V200.9M729.80 200.9h10.4" stroke="#808080" stroke-width="2.6" fill="none"/>
<rect x="740.85" y="209.0" width="9.3" height="6" fill="#808080"/>
<path d="M745.50 212V200.9M740.30 200.9h10.4" stroke="#808080" stroke-width="2.6" fill="none"/>
<rect x="755.75" y="209.0" width="9.3" height="6" fill="#808080"/>
<path d="M760.40 212V200.9M755.20 200.9h10.4" stroke="#808080" stroke-width="2.6" fill="none"/>
<rect x="776.85" y="209.0" width="9.3" height="6" fill="#808080"/>
<path d="M781.50 212V200.9M776.30 200.9h10.4" stroke="#808080" stroke-width="2.6" fill="none"/>
</g>
<circle cx="735.6" cy="75.6" r="7.95" fill="url(#ball)"/>
<circle cx="757.0" cy="33.0" r="7.95" fill="url(#ball)"/>
<path d="M753.6 31.0h3.0v2.6M753.4 33.9h3.4" stroke="#cc0000" stroke-width="1.0" stroke-opacity="0.8" fill="none"/>
<circle cx="760.4" cy="43.2" r="7.95" fill="url(#ball)"/>
<path d="M756.8 40.2h3.2v3.2M757.2 43.8h2.8" stroke="#cc0000" stroke-width="1.0" stroke-opacity="0.8" fill="none"/>
<circle cx="750.0" cy="43.6" r="7.95" fill="url(#ball)"/>
<path d="M742.3 43.6H737.2M737.2 41.0v5.2" stroke="#f00808" stroke-width="1.4" fill="none"/>
<text x="652.15" y="234.00" font-size="18.8" text-anchor="middle" fill="#000" textLength="14.72" lengthAdjust="spacingAndGlyphs" >-1</text>
<text x="703.25" y="234.00" font-size="18.8" text-anchor="middle" fill="#000" textLength="8.84" lengthAdjust="spacingAndGlyphs" >0</text>
<text x="753.75" y="234.00" font-size="18.8" text-anchor="middle" fill="#000" textLength="8.84" lengthAdjust="spacingAndGlyphs" >1</text>
<text x="804.25" y="234.00" font-size="18.8" text-anchor="middle" fill="#000" textLength="8.84" lengthAdjust="spacingAndGlyphs" >2</text>
<text x="610.40" y="217.80" font-size="18.0" text-anchor="end" fill="#000" >0</text>
<text x="591.9" y="157.20" font-size="18.0" textLength="18.8" lengthAdjust="spacingAndGlyphs">10</text>
<text x="591.9" y="96.60" font-size="18.0" textLength="18.8" lengthAdjust="spacingAndGlyphs">20</text>
<text x="591.9" y="36.00" font-size="18.0" textLength="18.8" lengthAdjust="spacingAndGlyphs">30</text>
<text x="668.17" y="262.00" font-size="22.3" fill="#000" textLength="110.44" lengthAdjust="spacingAndGlyphs" >Strain <tspan font-size="19.5">ε</tspan> (%)</text>
<text x="632.45" y="124.30" font-size="15.8" fill="#000" textLength="165.32" lengthAdjust="spacingAndGlyphs" >F. Nabeshima <tspan font-style="italic">et al</tspan> (2018)</text>
<text x="627.39" y="29.70" font-size="21.7" fill="#000" textLength="26.81" lengthAdjust="spacingAndGlyphs" >(c)</text>
<text transform="translate(578.00,161.12) rotate(-90)" font-size="24" textLength="12.84" lengthAdjust="spacingAndGlyphs" font-style="italic">T</text>
<text transform="translate(584.50,146.85) rotate(-90)" font-size="14" textLength="5.90" lengthAdjust="spacingAndGlyphs" >c</text>
<text transform="translate(570.70,139.80) rotate(-90)" font-size="13.3" textLength="31.87" lengthAdjust="spacingAndGlyphs" >onset</text>
<text transform="translate(577.90,101.49) rotate(-90)" font-size="21.5" textLength="29.65" lengthAdjust="spacingAndGlyphs" >(K)</text>
</svg>
</body></html>
